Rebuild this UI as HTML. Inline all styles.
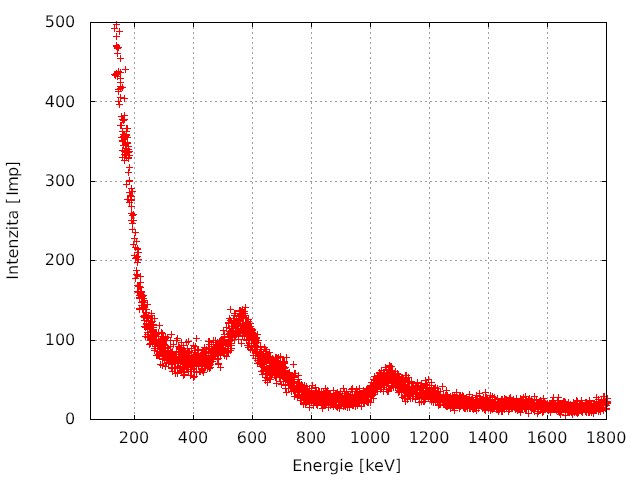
<!DOCTYPE html>
<html><head><meta charset="utf-8"><title>Energie</title>
<style>html,body{margin:0;padding:0;background:#fff;overflow:hidden}svg{display:block}</style>
</head><body>
<svg width="640" height="480" viewBox="0 0 640 480" shape-rendering="crispEdges">
<rect width="640" height="480" fill="#fff"/>
<path d="M134.5 27V415M193.5 27V415M252.5 27V415M311.5 27V415M370.5 27V415M429.5 27V415M488.5 27V415M547.5 27V415" stroke="#a0a0a0" stroke-width="1" stroke-dasharray="2 3" fill="none"/>
<path d="M95 340.5H602M95 260.5H602M95 181.5H602M95 101.5H602" stroke="#a0a0a0" stroke-width="1" stroke-dasharray="2 3" fill="none"/>
<path d="M113 24.5h7M116.5 21v7M111 28.5h7M114.5 25v7M116 31.5h7M119.5 28v7M113 36.5h7M116.5 33v7M113 45.5h7M116.5 42v7M113 46.5h7M116.5 43v7M114 47.5h7M117.5 44v7M115 47.5h7M118.5 44v7M114 48.5h7M117.5 45v7M114 53.5h7M117.5 50v7M117 58.5h7M120.5 55v7M122 69.5h7M125.5 66v7M115 71.5h7M118.5 68v7M117 72.5h7M120.5 69v7M113 73.5h7M116.5 70v7M111 74.5h7M114.5 71v7M114 74.5h7M117.5 71v7M112 75.5h7M115.5 72v7M114 76.5h7M117.5 73v7M117 78.5h7M120.5 75v7M117 82.5h7M120.5 79v7M119 87.5h7M122.5 84v7M117 86.5h7M120.5 83v7M117 88.5h7M120.5 85v7M115 89.5h7M118.5 86v7M115 91.5h7M118.5 88v7M121 98.5h7M124.5 95v7M117 97.5h7M120.5 94v7M115 101.5h7M118.5 98v7M116 104.5h7M119.5 101v7M121 115.5h7M124.5 112v7M118 116.5h7M121.5 113v7M119 119.5h7M122.5 116v7M121 119.5h7M124.5 116v7M120 120.5h7M123.5 117v7M118 125.5h7M121.5 122v7M117 125.5h7M120.5 122v7M123 128.5h7M126.5 125v7M124 128.5h7M127.5 125v7M119 131.5h7M122.5 128v7M123 131.5h7M126.5 128v7M126 167.5h7M129.5 164v7M125 172.5h7M128.5 169v7M126 180.5h7M129.5 177v7M126 181.5h7M129.5 178v7M123 184.5h7M126.5 181v7M128 188.5h7M131.5 185v7M126 192.5h7M129.5 189v7M129 191.5h7M132.5 188v7M127 195.5h7M130.5 192v7M128 196.5h7M131.5 193v7M124 199.5h7M127.5 196v7M125 199.5h7M128.5 196v7M128 199.5h7M131.5 196v7M128 200.5h7M131.5 197v7M126 202.5h7M129.5 199v7M128 206.5h7M131.5 203v7M128 213.5h7M131.5 210v7M130 214.5h7M133.5 211v7M129 215.5h7M132.5 212v7M128 220.5h7M131.5 217v7M130 220.5h7M133.5 217v7M129 223.5h7M132.5 220v7M129 229.5h7M132.5 226v7M132 232.5h7M135.5 229v7M131 238.5h7M134.5 235v7M133 241.5h7M136.5 238v7M130 244.5h7M133.5 241v7M120 134.5h7M123.5 131v7M123 135.5h7M126.5 132v7M118 137.5h7M121.5 134v7M124 137.5h7M127.5 134v7M121 139.5h7M124.5 136v7M119 141.5h7M122.5 138v7M124 142.5h7M127.5 139v7M122 144.5h7M125.5 141v7M120 145.5h7M123.5 142v7M125 146.5h7M128.5 143v7M123 148.5h7M126.5 145v7M119 150.5h7M122.5 147v7M126 151.5h7M129.5 148v7M124 152.5h7M127.5 149v7M125 152.5h7M128.5 149v7M122 154.5h7M125.5 151v7M126 155.5h7M129.5 152v7M119 157.5h7M122.5 154v7M123 157.5h7M126.5 154v7M121 160.5h7M124.5 157v7M125 158.5h7M128.5 155v7M119 140.5h7M122.5 137v7M121 134.5h7M124.5 131v7M120 137.5h7M123.5 134v7M120 136.5h7M123.5 133v7M122 152.5h7M125.5 149v7M121 154.5h7M124.5 151v7M122 136.5h7M125.5 133v7M121 135.5h7M124.5 132v7M123 134.5h7M126.5 131v7M121 151.5h7M124.5 148v7M124 142.5h7M127.5 139v7M122 148.5h7M125.5 145v7M125 157.5h7M128.5 154v7M123 155.5h7M126.5 152v7M124 143.5h7M127.5 140v7M125 149.5h7M128.5 146v7M132 258.5h7M135.5 255v7M131 255.5h7M134.5 252v7M132 247.5h7M135.5 244v7M132 278.5h7M135.5 275v7M134 248.5h7M137.5 245v7M134 262.5h7M137.5 259v7M135 252.5h7M138.5 249v7M134 256.5h7M137.5 253v7M133 270.5h7M136.5 267v7M133 257.5h7M136.5 254v7M134 249.5h7M137.5 246v7M134 275.5h7M137.5 272v7M134 285.5h7M137.5 282v7M134 291.5h7M137.5 288v7M133 274.5h7M136.5 271v7M136 286.5h7M139.5 283v7M134 274.5h7M137.5 271v7M135 259.5h7M138.5 256v7M136 286.5h7M139.5 283v7M134 275.5h7M137.5 272v7M137 282.5h7M140.5 279v7M137 287.5h7M140.5 284v7M136 309.5h7M139.5 306v7M135 292.5h7M138.5 289v7M136 286.5h7M139.5 283v7M135 286.5h7M138.5 283v7M138 292.5h7M141.5 289v7M137 276.5h7M140.5 273v7M136 297.5h7M139.5 294v7M136 295.5h7M139.5 292v7M138 294.5h7M141.5 291v7M139 308.5h7M142.5 305v7M136 308.5h7M139.5 305v7M137 292.5h7M140.5 289v7M136 298.5h7M139.5 295v7M139 301.5h7M142.5 298v7M138 291.5h7M141.5 288v7M140 298.5h7M143.5 295v7M138 302.5h7M141.5 299v7M138 296.5h7M141.5 293v7M138 305.5h7M141.5 302v7M140 305.5h7M143.5 302v7M138 295.5h7M141.5 292v7M140 295.5h7M143.5 292v7M140 309.5h7M143.5 306v7M139 296.5h7M142.5 293v7M139 307.5h7M142.5 304v7M141 304.5h7M144.5 301v7M142 312.5h7M145.5 309v7M140 316.5h7M143.5 313v7M141 315.5h7M144.5 312v7M142 315.5h7M145.5 312v7M140 316.5h7M143.5 313v7M141 300.5h7M144.5 297v7M140 309.5h7M143.5 306v7M141 302.5h7M144.5 299v7M141 315.5h7M144.5 312v7M141 317.5h7M144.5 314v7M141 306.5h7M144.5 303v7M140 309.5h7M143.5 306v7M141 320.5h7M144.5 317v7M141 326.5h7M144.5 323v7M143 312.5h7M146.5 309v7M142 309.5h7M145.5 306v7M142 336.5h7M145.5 333v7M143 326.5h7M146.5 323v7M143 323.5h7M146.5 320v7M142 327.5h7M145.5 324v7M143 320.5h7M146.5 317v7M144 327.5h7M147.5 324v7M144 328.5h7M147.5 325v7M143 324.5h7M146.5 321v7M144 317.5h7M147.5 314v7M144 334.5h7M147.5 331v7M145 316.5h7M148.5 313v7M143 309.5h7M146.5 306v7M145 321.5h7M148.5 318v7M145 318.5h7M148.5 315v7M144 332.5h7M147.5 329v7M146 325.5h7M149.5 322v7M146 327.5h7M149.5 324v7M144 337.5h7M147.5 334v7M147 336.5h7M150.5 333v7M144 304.5h7M147.5 301v7M145 336.5h7M148.5 333v7M146 328.5h7M149.5 325v7M147 329.5h7M150.5 326v7M147 334.5h7M150.5 331v7M146 337.5h7M149.5 334v7M148 331.5h7M151.5 328v7M147 321.5h7M150.5 318v7M148 315.5h7M151.5 312v7M150 325.5h7M153.5 322v7M147 326.5h7M150.5 323v7M145 324.5h7M148.5 321v7M147 343.5h7M150.5 340v7M147 328.5h7M150.5 325v7M148 327.5h7M151.5 324v7M148 313.5h7M151.5 310v7M147 336.5h7M150.5 333v7M147 328.5h7M150.5 325v7M148 322.5h7M151.5 319v7M148 336.5h7M151.5 333v7M146 344.5h7M149.5 341v7M150 338.5h7M153.5 335v7M149 318.5h7M152.5 315v7M149 321.5h7M152.5 318v7M150 324.5h7M153.5 321v7M148 340.5h7M151.5 337v7M150 327.5h7M153.5 324v7M151 342.5h7M154.5 339v7M151 318.5h7M154.5 315v7M150 330.5h7M153.5 327v7M150 327.5h7M153.5 324v7M150 336.5h7M153.5 333v7M152 335.5h7M155.5 332v7M151 350.5h7M154.5 347v7M150 329.5h7M153.5 326v7M149 341.5h7M152.5 338v7M150 338.5h7M153.5 335v7M149 342.5h7M152.5 339v7M153 334.5h7M156.5 331v7M152 340.5h7M155.5 337v7M151 333.5h7M154.5 330v7M152 332.5h7M155.5 329v7M155 332.5h7M158.5 329v7M153 339.5h7M156.5 336v7M151 340.5h7M154.5 337v7M152 344.5h7M155.5 341v7M152 346.5h7M155.5 343v7M151 348.5h7M154.5 345v7M153 340.5h7M156.5 337v7M156 345.5h7M159.5 342v7M155 340.5h7M158.5 337v7M154 351.5h7M157.5 348v7M153 341.5h7M156.5 338v7M154 355.5h7M157.5 352v7M155 344.5h7M158.5 341v7M153 355.5h7M156.5 352v7M152 333.5h7M155.5 330v7M156 343.5h7M159.5 340v7M155 346.5h7M158.5 343v7M156 344.5h7M159.5 341v7M155 355.5h7M158.5 352v7M156 325.5h7M159.5 322v7M155 340.5h7M158.5 337v7M156 341.5h7M159.5 338v7M157 341.5h7M160.5 338v7M157 343.5h7M160.5 340v7M155 342.5h7M158.5 339v7M157 352.5h7M160.5 349v7M155 336.5h7M158.5 333v7M155 344.5h7M158.5 341v7M157 347.5h7M160.5 344v7M158 348.5h7M161.5 345v7M158 341.5h7M161.5 338v7M156 356.5h7M159.5 353v7M158 332.5h7M161.5 329v7M158 352.5h7M161.5 349v7M157 364.5h7M160.5 361v7M155 354.5h7M158.5 351v7M159 333.5h7M162.5 330v7M159 355.5h7M162.5 352v7M159 346.5h7M162.5 343v7M156 348.5h7M159.5 345v7M157 341.5h7M160.5 338v7M159 340.5h7M162.5 337v7M159 341.5h7M162.5 338v7M159 338.5h7M162.5 335v7M159 349.5h7M162.5 346v7M160 348.5h7M163.5 345v7M159 358.5h7M162.5 355v7M159 365.5h7M162.5 362v7M159 359.5h7M162.5 356v7M160 352.5h7M163.5 349v7M159 354.5h7M162.5 351v7M161 353.5h7M164.5 350v7M161 355.5h7M164.5 352v7M160 344.5h7M163.5 341v7M162 340.5h7M165.5 337v7M160 355.5h7M163.5 352v7M161 356.5h7M164.5 353v7M162 352.5h7M165.5 349v7M162 336.5h7M165.5 333v7M159 346.5h7M162.5 343v7M162 347.5h7M165.5 344v7M163 340.5h7M166.5 337v7M163 363.5h7M166.5 360v7M160 337.5h7M163.5 334v7M161 340.5h7M164.5 337v7M162 366.5h7M165.5 363v7M162 353.5h7M165.5 350v7M164 347.5h7M167.5 344v7M162 345.5h7M165.5 342v7M164 354.5h7M167.5 351v7M164 337.5h7M167.5 334v7M162 338.5h7M165.5 335v7M162 355.5h7M165.5 352v7M163 354.5h7M166.5 351v7M164 356.5h7M167.5 353v7M165 363.5h7M168.5 360v7M164 348.5h7M167.5 345v7M165 350.5h7M168.5 347v7M163 360.5h7M166.5 357v7M161 359.5h7M164.5 356v7M164 348.5h7M167.5 345v7M165 359.5h7M168.5 356v7M165 362.5h7M168.5 359v7M164 351.5h7M167.5 348v7M166 359.5h7M169.5 356v7M167 353.5h7M170.5 350v7M165 359.5h7M168.5 356v7M165 353.5h7M168.5 350v7M165 351.5h7M168.5 348v7M168 334.5h7M171.5 331v7M166 361.5h7M169.5 358v7M167 340.5h7M170.5 337v7M168 355.5h7M171.5 352v7M168 352.5h7M171.5 349v7M166 359.5h7M169.5 356v7M168 368.5h7M171.5 365v7M168 359.5h7M171.5 356v7M168 358.5h7M171.5 355v7M168 352.5h7M171.5 349v7M167 346.5h7M170.5 343v7M168 367.5h7M171.5 364v7M167 354.5h7M170.5 351v7M169 360.5h7M172.5 357v7M168 368.5h7M171.5 365v7M169 353.5h7M172.5 350v7M167 354.5h7M170.5 351v7M169 362.5h7M172.5 359v7M168 354.5h7M171.5 351v7M169 371.5h7M172.5 368v7M169 353.5h7M172.5 350v7M169 351.5h7M172.5 348v7M169 364.5h7M172.5 361v7M168 363.5h7M171.5 360v7M171 359.5h7M174.5 356v7M169 357.5h7M172.5 354v7M170 359.5h7M173.5 356v7M169 353.5h7M172.5 350v7M171 361.5h7M174.5 358v7M170 344.5h7M173.5 341v7M171 368.5h7M174.5 365v7M172 373.5h7M175.5 370v7M173 358.5h7M176.5 355v7M172 367.5h7M175.5 364v7M172 359.5h7M175.5 356v7M170 355.5h7M173.5 352v7M173 356.5h7M176.5 353v7M173 351.5h7M176.5 348v7M173 354.5h7M176.5 351v7M173 359.5h7M176.5 356v7M172 357.5h7M175.5 354v7M172 359.5h7M175.5 356v7M174 373.5h7M177.5 370v7M174 361.5h7M177.5 358v7M172 363.5h7M175.5 360v7M174 366.5h7M177.5 363v7M173 340.5h7M176.5 337v7M174 359.5h7M177.5 356v7M174 363.5h7M177.5 360v7M175 363.5h7M178.5 360v7M175 362.5h7M178.5 359v7M175 346.5h7M178.5 343v7M173 352.5h7M176.5 349v7M175 361.5h7M178.5 358v7M174 372.5h7M177.5 369v7M173 356.5h7M176.5 353v7M175 352.5h7M178.5 349v7M174 338.5h7M177.5 335v7M176 356.5h7M179.5 353v7M177 366.5h7M180.5 363v7M175 363.5h7M178.5 360v7M176 368.5h7M179.5 365v7M176 347.5h7M179.5 344v7M177 368.5h7M180.5 365v7M175 358.5h7M178.5 355v7M177 361.5h7M180.5 358v7M176 356.5h7M179.5 353v7M177 362.5h7M180.5 359v7M177 348.5h7M180.5 345v7M178 355.5h7M181.5 352v7M177 349.5h7M180.5 346v7M178 359.5h7M181.5 356v7M179 356.5h7M182.5 353v7M178 342.5h7M181.5 339v7M179 367.5h7M182.5 364v7M178 371.5h7M181.5 368v7M178 358.5h7M181.5 355v7M178 370.5h7M181.5 367v7M179 353.5h7M182.5 350v7M180 368.5h7M183.5 365v7M178 357.5h7M181.5 354v7M179 351.5h7M182.5 348v7M179 359.5h7M182.5 356v7M178 359.5h7M181.5 356v7M180 355.5h7M183.5 352v7M181 361.5h7M184.5 358v7M179 354.5h7M182.5 351v7M178 357.5h7M181.5 354v7M180 359.5h7M183.5 356v7M179 360.5h7M182.5 357v7M182 364.5h7M185.5 361v7M180 363.5h7M183.5 360v7M180 362.5h7M183.5 359v7M180 345.5h7M183.5 342v7M181 372.5h7M184.5 369v7M180 375.5h7M183.5 372v7M180 367.5h7M183.5 364v7M181 364.5h7M184.5 361v7M181 363.5h7M184.5 360v7M183 342.5h7M186.5 339v7M181 351.5h7M184.5 348v7M182 364.5h7M185.5 361v7M181 364.5h7M184.5 361v7M181 371.5h7M184.5 368v7M184 355.5h7M187.5 352v7M180 368.5h7M183.5 365v7M184 364.5h7M187.5 361v7M181 374.5h7M184.5 371v7M183 354.5h7M186.5 351v7M185 351.5h7M188.5 348v7M181 350.5h7M184.5 347v7M182 352.5h7M185.5 349v7M185 355.5h7M188.5 352v7M184 365.5h7M187.5 362v7M183 358.5h7M186.5 355v7M184 348.5h7M187.5 345v7M183 367.5h7M186.5 364v7M184 353.5h7M187.5 350v7M186 359.5h7M189.5 356v7M184 357.5h7M187.5 354v7M185 371.5h7M188.5 368v7M186 351.5h7M189.5 348v7M187 375.5h7M190.5 372v7M185 363.5h7M188.5 360v7M186 359.5h7M189.5 356v7M185 363.5h7M188.5 360v7M185 358.5h7M188.5 355v7M185 355.5h7M188.5 352v7M185 353.5h7M188.5 350v7M185 341.5h7M188.5 338v7M184 369.5h7M187.5 366v7M186 364.5h7M189.5 361v7M187 358.5h7M190.5 355v7M188 371.5h7M191.5 368v7M186 351.5h7M189.5 348v7M187 369.5h7M190.5 366v7M188 360.5h7M191.5 357v7M188 360.5h7M191.5 357v7M187 362.5h7M190.5 359v7M188 348.5h7M191.5 345v7M190 368.5h7M193.5 365v7M188 371.5h7M191.5 368v7M188 348.5h7M191.5 345v7M187 365.5h7M190.5 362v7M189 363.5h7M192.5 360v7M188 371.5h7M191.5 368v7M191 371.5h7M194.5 368v7M189 364.5h7M192.5 361v7M190 365.5h7M193.5 362v7M190 363.5h7M193.5 360v7M191 355.5h7M194.5 352v7M188 352.5h7M191.5 349v7M191 363.5h7M194.5 360v7M190 355.5h7M193.5 352v7M190 359.5h7M193.5 356v7M190 345.5h7M193.5 342v7M190 363.5h7M193.5 360v7M190 369.5h7M193.5 366v7M188 367.5h7M191.5 364v7M191 350.5h7M194.5 347v7M191 356.5h7M194.5 353v7M190 377.5h7M193.5 374v7M191 360.5h7M194.5 357v7M194 360.5h7M197.5 357v7M192 357.5h7M195.5 354v7M191 376.5h7M194.5 373v7M194 350.5h7M197.5 347v7M191 359.5h7M194.5 356v7M192 346.5h7M195.5 343v7M192 362.5h7M195.5 359v7M192 355.5h7M195.5 352v7M193 372.5h7M196.5 369v7M193 338.5h7M196.5 335v7M192 354.5h7M195.5 351v7M193 361.5h7M196.5 358v7M193 356.5h7M196.5 353v7M193 355.5h7M196.5 352v7M194 362.5h7M197.5 359v7M193 360.5h7M196.5 357v7M193 366.5h7M196.5 363v7M194 361.5h7M197.5 358v7M193 363.5h7M196.5 360v7M195 349.5h7M198.5 346v7M194 359.5h7M197.5 356v7M194 356.5h7M197.5 353v7M194 357.5h7M197.5 354v7M195 363.5h7M198.5 360v7M195 365.5h7M198.5 362v7M196 356.5h7M199.5 353v7M195 353.5h7M198.5 350v7M195 363.5h7M198.5 360v7M197 371.5h7M200.5 368v7M197 359.5h7M200.5 356v7M196 361.5h7M199.5 358v7M197 355.5h7M200.5 352v7M197 355.5h7M200.5 352v7M196 371.5h7M199.5 368v7M197 358.5h7M200.5 355v7M200 350.5h7M203.5 347v7M198 354.5h7M201.5 351v7M198 356.5h7M201.5 353v7M197 363.5h7M200.5 360v7M198 359.5h7M201.5 356v7M200 357.5h7M203.5 354v7M198 363.5h7M201.5 360v7M199 363.5h7M202.5 360v7M199 361.5h7M202.5 358v7M199 366.5h7M202.5 363v7M200 372.5h7M203.5 369v7M199 350.5h7M202.5 347v7M199 370.5h7M202.5 367v7M198 369.5h7M201.5 366v7M202 360.5h7M205.5 357v7M200 363.5h7M203.5 360v7M200 363.5h7M203.5 360v7M201 368.5h7M204.5 365v7M199 361.5h7M202.5 358v7M200 352.5h7M203.5 349v7M199 368.5h7M202.5 365v7M200 357.5h7M203.5 354v7M200 356.5h7M203.5 353v7M201 362.5h7M204.5 359v7M201 347.5h7M204.5 344v7M200 361.5h7M203.5 358v7M201 355.5h7M204.5 352v7M201 352.5h7M204.5 349v7M201 355.5h7M204.5 352v7M202 359.5h7M205.5 356v7M202 361.5h7M205.5 358v7M202 366.5h7M205.5 363v7M201 359.5h7M204.5 356v7M203 352.5h7M206.5 349v7M201 355.5h7M204.5 352v7M203 351.5h7M206.5 348v7M203 353.5h7M206.5 350v7M202 351.5h7M205.5 348v7M202 355.5h7M205.5 352v7M202 361.5h7M205.5 358v7M205 366.5h7M208.5 363v7M203 360.5h7M206.5 357v7M203 349.5h7M206.5 346v7M205 363.5h7M208.5 360v7M204 368.5h7M207.5 365v7M205 341.5h7M208.5 338v7M203 357.5h7M206.5 354v7M203 358.5h7M206.5 355v7M208 357.5h7M211.5 354v7M205 361.5h7M208.5 358v7M205 348.5h7M208.5 345v7M205 358.5h7M208.5 355v7M206 367.5h7M209.5 364v7M204 359.5h7M207.5 356v7M206 344.5h7M209.5 341v7M206 365.5h7M209.5 362v7M206 364.5h7M209.5 361v7M206 341.5h7M209.5 338v7M206 363.5h7M209.5 360v7M205 352.5h7M208.5 349v7M204 361.5h7M207.5 358v7M207 355.5h7M210.5 352v7M205 356.5h7M208.5 353v7M206 368.5h7M209.5 365v7M209 361.5h7M212.5 358v7M207 362.5h7M210.5 359v7M208 346.5h7M211.5 343v7M207 359.5h7M210.5 356v7M208 355.5h7M211.5 352v7M208 356.5h7M211.5 353v7M207 367.5h7M210.5 364v7M209 355.5h7M212.5 352v7M208 351.5h7M211.5 348v7M207 364.5h7M210.5 361v7M208 358.5h7M211.5 355v7M209 350.5h7M212.5 347v7M208 358.5h7M211.5 355v7M210 340.5h7M213.5 337v7M210 356.5h7M213.5 353v7M211 350.5h7M214.5 347v7M209 356.5h7M212.5 353v7M210 344.5h7M213.5 341v7M208 355.5h7M211.5 352v7M210 349.5h7M213.5 346v7M210 355.5h7M213.5 352v7M211 348.5h7M214.5 345v7M210 353.5h7M213.5 350v7M210 352.5h7M213.5 349v7M210 358.5h7M213.5 355v7M210 359.5h7M213.5 356v7M211 354.5h7M214.5 351v7M212 355.5h7M215.5 352v7M212 344.5h7M215.5 341v7M212 353.5h7M215.5 350v7M213 351.5h7M216.5 348v7M210 342.5h7M213.5 339v7M211 355.5h7M214.5 352v7M212 340.5h7M215.5 337v7M212 348.5h7M215.5 345v7M213 351.5h7M216.5 348v7M213 352.5h7M216.5 349v7M213 351.5h7M216.5 348v7M213 344.5h7M216.5 341v7M214 359.5h7M217.5 356v7M213 353.5h7M216.5 350v7M213 346.5h7M216.5 343v7M214 353.5h7M217.5 350v7M214 342.5h7M217.5 339v7M215 363.5h7M218.5 360v7M214 354.5h7M217.5 351v7M215 347.5h7M218.5 344v7M214 355.5h7M217.5 352v7M214 344.5h7M217.5 341v7M215 358.5h7M218.5 355v7M212 352.5h7M215.5 349v7M215 364.5h7M218.5 361v7M216 350.5h7M219.5 347v7M215 352.5h7M218.5 349v7M215 352.5h7M218.5 349v7M217 348.5h7M220.5 345v7M216 341.5h7M219.5 338v7M217 349.5h7M220.5 346v7M218 342.5h7M221.5 339v7M217 340.5h7M220.5 337v7M217 343.5h7M220.5 340v7M217 343.5h7M220.5 340v7M217 353.5h7M220.5 350v7M217 350.5h7M220.5 347v7M217 344.5h7M220.5 341v7M218 340.5h7M221.5 337v7M216 344.5h7M219.5 341v7M217 367.5h7M220.5 364v7M218 352.5h7M221.5 349v7M217 355.5h7M220.5 352v7M218 350.5h7M221.5 347v7M217 346.5h7M220.5 343v7M219 352.5h7M222.5 349v7M219 340.5h7M222.5 337v7M220 344.5h7M223.5 341v7M219 348.5h7M222.5 345v7M218 345.5h7M221.5 342v7M219 351.5h7M222.5 348v7M220 339.5h7M223.5 336v7M221 352.5h7M224.5 349v7M217 344.5h7M220.5 341v7M220 330.5h7M223.5 327v7M218 347.5h7M221.5 344v7M221 353.5h7M224.5 350v7M221 337.5h7M224.5 334v7M221 340.5h7M224.5 337v7M221 351.5h7M224.5 348v7M221 340.5h7M224.5 337v7M220 345.5h7M223.5 342v7M221 350.5h7M224.5 347v7M222 345.5h7M225.5 342v7M221 352.5h7M224.5 349v7M221 351.5h7M224.5 348v7M220 352.5h7M223.5 349v7M223 351.5h7M226.5 348v7M221 334.5h7M224.5 331v7M221 355.5h7M224.5 352v7M222 343.5h7M225.5 340v7M221 336.5h7M224.5 333v7M222 342.5h7M225.5 339v7M224 343.5h7M227.5 340v7M224 351.5h7M227.5 348v7M224 348.5h7M227.5 345v7M225 334.5h7M228.5 331v7M222 348.5h7M225.5 345v7M224 345.5h7M227.5 342v7M225 344.5h7M228.5 341v7M226 331.5h7M229.5 328v7M223 342.5h7M226.5 339v7M223 356.5h7M226.5 353v7M225 336.5h7M228.5 333v7M224 345.5h7M227.5 342v7M224 342.5h7M227.5 339v7M225 352.5h7M228.5 349v7M224 352.5h7M227.5 349v7M223 327.5h7M226.5 324v7M225 346.5h7M228.5 343v7M225 340.5h7M228.5 337v7M226 318.5h7M229.5 315v7M226 343.5h7M229.5 340v7M226 333.5h7M229.5 330v7M226 328.5h7M229.5 325v7M225 342.5h7M228.5 339v7M225 323.5h7M228.5 320v7M226 341.5h7M229.5 338v7M227 320.5h7M230.5 317v7M227 350.5h7M230.5 347v7M229 332.5h7M232.5 329v7M227 335.5h7M230.5 332v7M225 322.5h7M228.5 319v7M228 345.5h7M231.5 342v7M228 343.5h7M231.5 340v7M227 309.5h7M230.5 306v7M226 340.5h7M229.5 337v7M228 348.5h7M231.5 345v7M229 326.5h7M232.5 323v7M227 332.5h7M230.5 329v7M228 330.5h7M231.5 327v7M228 337.5h7M231.5 334v7M228 340.5h7M231.5 337v7M228 321.5h7M231.5 318v7M229 337.5h7M232.5 334v7M229 333.5h7M232.5 330v7M229 337.5h7M232.5 334v7M227 337.5h7M230.5 334v7M231 315.5h7M234.5 312v7M229 323.5h7M232.5 320v7M230 326.5h7M233.5 323v7M229 337.5h7M232.5 334v7M231 339.5h7M234.5 336v7M229 332.5h7M232.5 329v7M231 324.5h7M234.5 321v7M231 313.5h7M234.5 310v7M232 336.5h7M235.5 333v7M230 318.5h7M233.5 315v7M231 334.5h7M234.5 331v7M231 320.5h7M234.5 317v7M234 321.5h7M237.5 318v7M230 330.5h7M233.5 327v7M232 333.5h7M235.5 330v7M231 325.5h7M234.5 322v7M232 328.5h7M235.5 325v7M233 328.5h7M236.5 325v7M233 328.5h7M236.5 325v7M233 319.5h7M236.5 316v7M233 322.5h7M236.5 319v7M232 327.5h7M235.5 324v7M233 318.5h7M236.5 315v7M232 313.5h7M235.5 310v7M233 331.5h7M236.5 328v7M233 331.5h7M236.5 328v7M233 334.5h7M236.5 331v7M235 339.5h7M238.5 336v7M234 328.5h7M237.5 325v7M235 332.5h7M238.5 329v7M235 319.5h7M238.5 316v7M232 324.5h7M235.5 321v7M235 324.5h7M238.5 321v7M235 332.5h7M238.5 329v7M235 320.5h7M238.5 317v7M234 333.5h7M237.5 330v7M236 316.5h7M239.5 313v7M237 310.5h7M240.5 307v7M237 324.5h7M240.5 321v7M236 310.5h7M239.5 307v7M237 323.5h7M240.5 320v7M237 324.5h7M240.5 321v7M238 311.5h7M241.5 308v7M238 343.5h7M241.5 340v7M237 326.5h7M240.5 323v7M237 331.5h7M240.5 328v7M237 315.5h7M240.5 312v7M237 331.5h7M240.5 328v7M237 314.5h7M240.5 311v7M238 315.5h7M241.5 312v7M237 330.5h7M240.5 327v7M237 321.5h7M240.5 318v7M238 313.5h7M241.5 310v7M237 319.5h7M240.5 316v7M238 328.5h7M241.5 325v7M236 311.5h7M239.5 308v7M239 309.5h7M242.5 306v7M239 335.5h7M242.5 332v7M239 330.5h7M242.5 327v7M239 325.5h7M242.5 322v7M239 318.5h7M242.5 315v7M239 336.5h7M242.5 333v7M241 313.5h7M244.5 310v7M239 329.5h7M242.5 326v7M241 335.5h7M244.5 332v7M242 333.5h7M245.5 330v7M239 328.5h7M242.5 325v7M240 326.5h7M243.5 323v7M239 312.5h7M242.5 309v7M241 311.5h7M244.5 308v7M240 316.5h7M243.5 313v7M240 323.5h7M243.5 320v7M242 317.5h7M245.5 314v7M242 315.5h7M245.5 312v7M240 333.5h7M243.5 330v7M242 324.5h7M245.5 321v7M242 318.5h7M245.5 315v7M244 335.5h7M247.5 332v7M243 339.5h7M246.5 336v7M241 335.5h7M244.5 332v7M242 307.5h7M245.5 304v7M241 325.5h7M244.5 322v7M243 322.5h7M246.5 319v7M243 332.5h7M246.5 329v7M243 336.5h7M246.5 333v7M243 324.5h7M246.5 321v7M242 331.5h7M245.5 328v7M242 326.5h7M245.5 323v7M245 319.5h7M248.5 316v7M245 324.5h7M248.5 321v7M244 326.5h7M247.5 323v7M244 345.5h7M247.5 342v7M244 330.5h7M247.5 327v7M244 322.5h7M247.5 319v7M243 335.5h7M246.5 332v7M245 339.5h7M248.5 336v7M244 333.5h7M247.5 330v7M245 334.5h7M248.5 331v7M243 340.5h7M246.5 337v7M245 321.5h7M248.5 318v7M247 323.5h7M250.5 320v7M243 325.5h7M246.5 322v7M247 337.5h7M250.5 334v7M246 340.5h7M249.5 337v7M245 345.5h7M248.5 342v7M245 347.5h7M248.5 344v7M247 326.5h7M250.5 323v7M247 329.5h7M250.5 326v7M247 331.5h7M250.5 328v7M246 328.5h7M249.5 325v7M246 340.5h7M249.5 337v7M248 347.5h7M251.5 344v7M246 331.5h7M249.5 328v7M248 338.5h7M251.5 335v7M246 343.5h7M249.5 340v7M247 333.5h7M250.5 330v7M246 330.5h7M249.5 327v7M249 332.5h7M252.5 329v7M246 333.5h7M249.5 330v7M247 349.5h7M250.5 346v7M249 329.5h7M252.5 326v7M249 330.5h7M252.5 327v7M251 349.5h7M254.5 346v7M251 333.5h7M254.5 330v7M250 335.5h7M253.5 332v7M250 355.5h7M253.5 352v7M248 328.5h7M251.5 325v7M249 329.5h7M252.5 326v7M249 338.5h7M252.5 335v7M250 334.5h7M253.5 331v7M249 340.5h7M252.5 337v7M249 336.5h7M252.5 333v7M249 350.5h7M252.5 347v7M251 335.5h7M254.5 332v7M251 343.5h7M254.5 340v7M250 343.5h7M253.5 340v7M251 342.5h7M254.5 339v7M251 346.5h7M254.5 343v7M251 340.5h7M254.5 337v7M251 347.5h7M254.5 344v7M250 339.5h7M253.5 336v7M252 343.5h7M255.5 340v7M253 338.5h7M256.5 335v7M252 345.5h7M255.5 342v7M253 340.5h7M256.5 337v7M253 349.5h7M256.5 346v7M254 334.5h7M257.5 331v7M253 337.5h7M256.5 334v7M252 341.5h7M255.5 338v7M252 358.5h7M255.5 355v7M254 347.5h7M257.5 344v7M254 342.5h7M257.5 339v7M254 353.5h7M257.5 350v7M254 363.5h7M257.5 360v7M254 353.5h7M257.5 350v7M252 355.5h7M255.5 352v7M253 337.5h7M256.5 334v7M252 341.5h7M255.5 338v7M254 346.5h7M257.5 343v7M253 351.5h7M256.5 348v7M255 356.5h7M258.5 353v7M255 340.5h7M258.5 337v7M253 346.5h7M256.5 343v7M256 362.5h7M259.5 359v7M256 352.5h7M259.5 349v7M254 360.5h7M257.5 357v7M256 358.5h7M259.5 355v7M256 352.5h7M259.5 349v7M256 360.5h7M259.5 357v7M257 364.5h7M260.5 361v7M256 356.5h7M259.5 353v7M257 356.5h7M260.5 353v7M257 346.5h7M260.5 343v7M257 363.5h7M260.5 360v7M257 352.5h7M260.5 349v7M258 361.5h7M261.5 358v7M257 362.5h7M260.5 359v7M257 351.5h7M260.5 348v7M257 356.5h7M260.5 353v7M257 354.5h7M260.5 351v7M257 353.5h7M260.5 350v7M258 357.5h7M261.5 354v7M258 364.5h7M261.5 361v7M258 356.5h7M261.5 353v7M258 371.5h7M261.5 368v7M259 371.5h7M262.5 368v7M260 353.5h7M263.5 350v7M260 363.5h7M263.5 360v7M258 351.5h7M261.5 348v7M260 364.5h7M263.5 361v7M259 356.5h7M262.5 353v7M259 357.5h7M262.5 354v7M259 355.5h7M262.5 352v7M259 374.5h7M262.5 371v7M259 355.5h7M262.5 352v7M258 366.5h7M261.5 363v7M260 361.5h7M263.5 358v7M262 356.5h7M265.5 353v7M260 354.5h7M263.5 351v7M261 362.5h7M264.5 359v7M261 356.5h7M264.5 353v7M261 358.5h7M264.5 355v7M260 353.5h7M263.5 350v7M261 347.5h7M264.5 344v7M261 357.5h7M264.5 354v7M259 364.5h7M262.5 361v7M262 380.5h7M265.5 377v7M262 374.5h7M265.5 371v7M260 370.5h7M263.5 367v7M263 367.5h7M266.5 364v7M262 349.5h7M265.5 346v7M263 360.5h7M266.5 357v7M263 356.5h7M266.5 353v7M263 377.5h7M266.5 374v7M262 371.5h7M265.5 368v7M263 351.5h7M266.5 348v7M263 366.5h7M266.5 363v7M266 358.5h7M269.5 355v7M265 356.5h7M268.5 353v7M263 369.5h7M266.5 366v7M264 373.5h7M267.5 370v7M264 378.5h7M267.5 375v7M265 360.5h7M268.5 357v7M264 360.5h7M267.5 357v7M264 356.5h7M267.5 353v7M267 356.5h7M270.5 353v7M266 352.5h7M269.5 349v7M264 382.5h7M267.5 379v7M264 368.5h7M267.5 365v7M265 359.5h7M268.5 356v7M266 359.5h7M269.5 356v7M266 375.5h7M269.5 372v7M266 379.5h7M269.5 376v7M264 368.5h7M267.5 365v7M266 370.5h7M269.5 367v7M267 357.5h7M270.5 354v7M267 361.5h7M270.5 358v7M266 373.5h7M269.5 370v7M267 368.5h7M270.5 365v7M267 370.5h7M270.5 367v7M266 368.5h7M269.5 365v7M267 367.5h7M270.5 364v7M266 362.5h7M269.5 359v7M269 374.5h7M272.5 371v7M268 365.5h7M271.5 362v7M267 367.5h7M270.5 364v7M268 368.5h7M271.5 365v7M269 358.5h7M272.5 355v7M266 359.5h7M269.5 356v7M268 372.5h7M271.5 369v7M270 370.5h7M273.5 367v7M267 370.5h7M270.5 367v7M269 366.5h7M272.5 363v7M268 373.5h7M271.5 370v7M269 373.5h7M272.5 370v7M267 379.5h7M270.5 376v7M268 375.5h7M271.5 372v7M269 365.5h7M272.5 362v7M270 370.5h7M273.5 367v7M270 367.5h7M273.5 364v7M271 362.5h7M274.5 359v7M272 360.5h7M275.5 357v7M271 365.5h7M274.5 362v7M271 369.5h7M274.5 366v7M270 362.5h7M273.5 359v7M271 375.5h7M274.5 372v7M274 367.5h7M277.5 364v7M274 360.5h7M277.5 357v7M272 357.5h7M275.5 354v7M272 362.5h7M275.5 359v7M273 368.5h7M276.5 365v7M272 377.5h7M275.5 374v7M274 365.5h7M277.5 362v7M272 358.5h7M275.5 355v7M272 374.5h7M275.5 371v7M275 363.5h7M278.5 360v7M271 369.5h7M274.5 366v7M273 367.5h7M276.5 364v7M271 363.5h7M274.5 360v7M273 365.5h7M276.5 362v7M273 383.5h7M276.5 380v7M273 357.5h7M276.5 354v7M274 358.5h7M277.5 355v7M273 368.5h7M276.5 365v7M274 373.5h7M277.5 370v7M273 377.5h7M276.5 374v7M274 371.5h7M277.5 368v7M273 372.5h7M276.5 369v7M275 368.5h7M278.5 365v7M274 368.5h7M277.5 365v7M276 369.5h7M279.5 366v7M275 373.5h7M278.5 370v7M275 357.5h7M278.5 354v7M277 363.5h7M280.5 360v7M276 364.5h7M279.5 361v7M274 361.5h7M277.5 358v7M276 372.5h7M279.5 369v7M273 377.5h7M276.5 374v7M276 377.5h7M279.5 374v7M276 365.5h7M279.5 362v7M275 366.5h7M278.5 363v7M277 381.5h7M280.5 378v7M277 357.5h7M280.5 354v7M279 361.5h7M282.5 358v7M277 363.5h7M280.5 360v7M279 370.5h7M282.5 367v7M279 368.5h7M282.5 365v7M277 369.5h7M280.5 366v7M277 371.5h7M280.5 368v7M279 365.5h7M282.5 362v7M278 384.5h7M281.5 381v7M278 372.5h7M281.5 369v7M278 374.5h7M281.5 371v7M277 356.5h7M280.5 353v7M278 370.5h7M281.5 367v7M278 366.5h7M281.5 363v7M277 375.5h7M280.5 372v7M279 365.5h7M282.5 362v7M281 370.5h7M284.5 367v7M281 368.5h7M284.5 365v7M280 381.5h7M283.5 378v7M280 378.5h7M283.5 375v7M280 375.5h7M283.5 372v7M281 362.5h7M284.5 359v7M281 375.5h7M284.5 372v7M280 366.5h7M283.5 363v7M280 373.5h7M283.5 370v7M282 375.5h7M285.5 372v7M283 379.5h7M286.5 376v7M280 377.5h7M283.5 374v7M279 376.5h7M282.5 373v7M282 385.5h7M285.5 382v7M281 371.5h7M284.5 368v7M282 375.5h7M285.5 372v7M283 373.5h7M286.5 370v7M282 388.5h7M285.5 385v7M281 361.5h7M284.5 358v7M280 361.5h7M283.5 358v7M282 377.5h7M285.5 374v7M281 363.5h7M284.5 360v7M283 357.5h7M286.5 354v7M282 381.5h7M285.5 378v7M283 375.5h7M286.5 372v7M282 367.5h7M285.5 364v7M283 392.5h7M286.5 389v7M283 374.5h7M286.5 371v7M284 377.5h7M287.5 374v7M285 373.5h7M288.5 370v7M284 380.5h7M287.5 377v7M283 377.5h7M286.5 374v7M286 380.5h7M289.5 377v7M285 378.5h7M288.5 375v7M285 378.5h7M288.5 375v7M285 378.5h7M288.5 375v7M286 380.5h7M289.5 377v7M286 378.5h7M289.5 375v7M286 381.5h7M289.5 378v7M286 381.5h7M289.5 378v7M285 376.5h7M288.5 373v7M285 377.5h7M288.5 374v7M286 380.5h7M289.5 377v7M286 379.5h7M289.5 376v7M286 372.5h7M289.5 369v7M287 385.5h7M290.5 382v7M287 378.5h7M290.5 375v7M286 382.5h7M289.5 379v7M285 388.5h7M288.5 385v7M288 391.5h7M291.5 388v7M288 388.5h7M291.5 385v7M286 384.5h7M289.5 381v7M288 391.5h7M291.5 388v7M288 377.5h7M291.5 374v7M288 377.5h7M291.5 374v7M286 377.5h7M289.5 374v7M287 376.5h7M290.5 373v7M288 386.5h7M291.5 383v7M290 387.5h7M293.5 384v7M288 385.5h7M291.5 382v7M288 375.5h7M291.5 372v7M288 383.5h7M291.5 380v7M289 376.5h7M292.5 373v7M290 383.5h7M293.5 380v7M287 379.5h7M290.5 376v7M287 381.5h7M290.5 378v7M290 376.5h7M293.5 373v7M290 382.5h7M293.5 379v7M289 385.5h7M292.5 382v7M291 373.5h7M294.5 370v7M291 376.5h7M294.5 373v7M288 386.5h7M291.5 383v7M290 389.5h7M293.5 386v7M292 390.5h7M295.5 387v7M290 364.5h7M293.5 361v7M291 396.5h7M294.5 393v7M292 373.5h7M295.5 370v7M291 381.5h7M294.5 378v7M290 390.5h7M293.5 387v7M291 381.5h7M294.5 378v7M291 377.5h7M294.5 374v7M293 389.5h7M296.5 386v7M290 382.5h7M293.5 379v7M293 388.5h7M296.5 385v7M291 386.5h7M294.5 383v7M293 385.5h7M296.5 382v7M291 383.5h7M294.5 380v7M293 386.5h7M296.5 383v7M294 386.5h7M297.5 383v7M294 392.5h7M297.5 389v7M295 379.5h7M298.5 376v7M293 385.5h7M296.5 382v7M294 382.5h7M297.5 379v7M294 390.5h7M297.5 387v7M295 386.5h7M298.5 383v7M294 397.5h7M297.5 394v7M295 385.5h7M298.5 382v7M295 395.5h7M298.5 392v7M296 386.5h7M299.5 383v7M295 388.5h7M298.5 385v7M296 383.5h7M299.5 380v7M294 394.5h7M297.5 391v7M295 375.5h7M298.5 372v7M294 387.5h7M297.5 384v7M295 390.5h7M298.5 387v7M296 392.5h7M299.5 389v7M297 397.5h7M300.5 394v7M295 389.5h7M298.5 386v7M299 391.5h7M302.5 388v7M296 391.5h7M299.5 388v7M298 384.5h7M301.5 381v7M298 390.5h7M301.5 387v7M294 397.5h7M297.5 394v7M297 398.5h7M300.5 395v7M299 396.5h7M302.5 393v7M295 391.5h7M298.5 388v7M298 385.5h7M301.5 382v7M297 389.5h7M300.5 386v7M297 389.5h7M300.5 386v7M298 397.5h7M301.5 394v7M296 385.5h7M299.5 382v7M298 389.5h7M301.5 386v7M298 395.5h7M301.5 392v7M298 400.5h7M301.5 397v7M299 395.5h7M302.5 392v7M302 393.5h7M305.5 390v7M299 385.5h7M302.5 382v7M300 403.5h7M303.5 400v7M299 390.5h7M302.5 387v7M299 395.5h7M302.5 392v7M300 391.5h7M303.5 388v7M301 390.5h7M304.5 387v7M300 404.5h7M303.5 401v7M301 395.5h7M304.5 392v7M300 403.5h7M303.5 400v7M303 396.5h7M306.5 393v7M299 387.5h7M302.5 384v7M301 385.5h7M304.5 382v7M301 396.5h7M304.5 393v7M301 395.5h7M304.5 392v7M300 402.5h7M303.5 399v7M300 392.5h7M303.5 389v7M301 387.5h7M304.5 384v7M302 403.5h7M305.5 400v7M301 390.5h7M304.5 387v7M301 395.5h7M304.5 392v7M303 401.5h7M306.5 398v7M303 390.5h7M306.5 387v7M302 390.5h7M305.5 387v7M302 400.5h7M305.5 397v7M302 404.5h7M305.5 401v7M305 394.5h7M308.5 391v7M304 398.5h7M307.5 395v7M303 386.5h7M306.5 383v7M304 393.5h7M307.5 390v7M306 393.5h7M309.5 390v7M305 396.5h7M308.5 393v7M302 403.5h7M305.5 400v7M304 390.5h7M307.5 387v7M304 400.5h7M307.5 397v7M304 392.5h7M307.5 389v7M303 396.5h7M306.5 393v7M304 394.5h7M307.5 391v7M304 396.5h7M307.5 393v7M305 392.5h7M308.5 389v7M305 391.5h7M308.5 388v7M304 393.5h7M307.5 390v7M304 400.5h7M307.5 397v7M305 397.5h7M308.5 394v7M306 395.5h7M309.5 392v7M306 392.5h7M309.5 389v7M306 390.5h7M309.5 387v7M303 402.5h7M306.5 399v7M306 403.5h7M309.5 400v7M306 400.5h7M309.5 397v7M306 393.5h7M309.5 390v7M306 407.5h7M309.5 404v7M307 399.5h7M310.5 396v7M306 398.5h7M309.5 395v7M310 395.5h7M313.5 392v7M308 392.5h7M311.5 389v7M307 399.5h7M310.5 396v7M308 396.5h7M311.5 393v7M308 397.5h7M311.5 394v7M308 400.5h7M311.5 397v7M308 388.5h7M311.5 385v7M308 388.5h7M311.5 385v7M310 395.5h7M313.5 392v7M310 405.5h7M313.5 402v7M309 400.5h7M312.5 397v7M310 398.5h7M313.5 395v7M309 394.5h7M312.5 391v7M308 401.5h7M311.5 398v7M308 390.5h7M311.5 387v7M309 385.5h7M312.5 382v7M310 399.5h7M313.5 396v7M310 398.5h7M313.5 395v7M311 398.5h7M314.5 395v7M310 400.5h7M313.5 397v7M310 398.5h7M313.5 395v7M311 398.5h7M314.5 395v7M312 392.5h7M315.5 389v7M310 399.5h7M313.5 396v7M311 399.5h7M314.5 396v7M313 394.5h7M316.5 391v7M312 398.5h7M315.5 395v7M311 397.5h7M314.5 394v7M310 397.5h7M313.5 394v7M313 398.5h7M316.5 395v7M313 400.5h7M316.5 397v7M312 387.5h7M315.5 384v7M312 398.5h7M315.5 395v7M311 397.5h7M314.5 394v7M313 404.5h7M316.5 401v7M313 403.5h7M316.5 400v7M314 393.5h7M317.5 390v7M312 398.5h7M315.5 395v7M315 400.5h7M318.5 397v7M313 392.5h7M316.5 389v7M315 398.5h7M318.5 395v7M313 391.5h7M316.5 388v7M314 399.5h7M317.5 396v7M315 402.5h7M318.5 399v7M314 398.5h7M317.5 395v7M313 400.5h7M316.5 397v7M314 405.5h7M317.5 402v7M315 399.5h7M318.5 396v7M313 395.5h7M316.5 392v7M314 395.5h7M317.5 392v7M315 398.5h7M318.5 395v7M314 401.5h7M317.5 398v7M316 391.5h7M319.5 388v7M314 405.5h7M317.5 402v7M314 398.5h7M317.5 395v7M315 400.5h7M318.5 397v7M318 394.5h7M321.5 391v7M315 391.5h7M318.5 388v7M316 402.5h7M319.5 399v7M317 398.5h7M320.5 395v7M316 397.5h7M319.5 394v7M318 397.5h7M321.5 394v7M317 397.5h7M320.5 394v7M318 405.5h7M321.5 402v7M316 400.5h7M319.5 397v7M316 397.5h7M319.5 394v7M315 399.5h7M318.5 396v7M318 402.5h7M321.5 399v7M318 392.5h7M321.5 389v7M319 400.5h7M322.5 397v7M320 401.5h7M323.5 398v7M318 391.5h7M321.5 388v7M318 402.5h7M321.5 399v7M319 402.5h7M322.5 399v7M320 392.5h7M323.5 389v7M318 393.5h7M321.5 390v7M320 403.5h7M323.5 400v7M319 394.5h7M322.5 391v7M319 403.5h7M322.5 400v7M320 404.5h7M323.5 401v7M319 399.5h7M322.5 396v7M319 408.5h7M322.5 405v7M321 405.5h7M324.5 402v7M320 401.5h7M323.5 398v7M320 395.5h7M323.5 392v7M320 401.5h7M323.5 398v7M321 402.5h7M324.5 399v7M321 395.5h7M324.5 392v7M322 393.5h7M325.5 390v7M322 397.5h7M325.5 394v7M323 403.5h7M326.5 400v7M323 392.5h7M326.5 389v7M323 395.5h7M326.5 392v7M322 396.5h7M325.5 393v7M322 397.5h7M325.5 394v7M322 404.5h7M325.5 401v7M325 395.5h7M328.5 392v7M322 398.5h7M325.5 395v7M323 397.5h7M326.5 394v7M324 397.5h7M327.5 394v7M322 398.5h7M325.5 395v7M322 401.5h7M325.5 398v7M323 403.5h7M326.5 400v7M322 388.5h7M325.5 385v7M322 397.5h7M325.5 394v7M323 397.5h7M326.5 394v7M325 404.5h7M328.5 401v7M325 399.5h7M328.5 396v7M324 396.5h7M327.5 393v7M324 390.5h7M327.5 387v7M323 394.5h7M326.5 391v7M325 407.5h7M328.5 404v7M325 397.5h7M328.5 394v7M324 400.5h7M327.5 397v7M325 404.5h7M328.5 401v7M325 403.5h7M328.5 400v7M325 394.5h7M328.5 391v7M325 396.5h7M328.5 393v7M325 400.5h7M328.5 397v7M325 395.5h7M328.5 392v7M327 393.5h7M330.5 390v7M327 402.5h7M330.5 399v7M327 400.5h7M330.5 397v7M326 393.5h7M329.5 390v7M326 402.5h7M329.5 399v7M329 397.5h7M332.5 394v7M325 401.5h7M328.5 398v7M328 397.5h7M331.5 394v7M328 403.5h7M331.5 400v7M328 403.5h7M331.5 400v7M327 398.5h7M330.5 395v7M328 396.5h7M331.5 393v7M327 405.5h7M330.5 402v7M327 400.5h7M330.5 397v7M328 402.5h7M331.5 399v7M327 395.5h7M330.5 392v7M329 401.5h7M332.5 398v7M330 394.5h7M333.5 391v7M325 403.5h7M328.5 400v7M327 401.5h7M330.5 398v7M329 400.5h7M332.5 397v7M330 403.5h7M333.5 400v7M330 402.5h7M333.5 399v7M330 395.5h7M333.5 392v7M331 397.5h7M334.5 394v7M331 397.5h7M334.5 394v7M332 405.5h7M335.5 402v7M330 390.5h7M333.5 387v7M331 398.5h7M334.5 395v7M329 404.5h7M332.5 401v7M331 395.5h7M334.5 392v7M330 406.5h7M333.5 403v7M332 398.5h7M335.5 395v7M334 392.5h7M337.5 389v7M332 404.5h7M335.5 401v7M330 403.5h7M333.5 400v7M332 402.5h7M335.5 399v7M332 394.5h7M335.5 391v7M332 397.5h7M335.5 394v7M333 406.5h7M336.5 403v7M333 393.5h7M336.5 390v7M330 400.5h7M333.5 397v7M334 397.5h7M337.5 394v7M332 402.5h7M335.5 399v7M332 402.5h7M335.5 399v7M335 402.5h7M338.5 399v7M333 400.5h7M336.5 397v7M332 394.5h7M335.5 391v7M332 400.5h7M335.5 397v7M334 407.5h7M337.5 404v7M335 400.5h7M338.5 397v7M336 395.5h7M339.5 392v7M334 395.5h7M337.5 392v7M334 399.5h7M337.5 396v7M336 404.5h7M339.5 401v7M334 396.5h7M337.5 393v7M336 408.5h7M339.5 405v7M335 398.5h7M338.5 395v7M335 397.5h7M338.5 394v7M335 401.5h7M338.5 398v7M336 397.5h7M339.5 394v7M335 397.5h7M338.5 394v7M335 400.5h7M338.5 397v7M336 402.5h7M339.5 399v7M335 397.5h7M338.5 394v7M337 391.5h7M340.5 388v7M336 398.5h7M339.5 395v7M336 402.5h7M339.5 399v7M337 402.5h7M340.5 399v7M337 393.5h7M340.5 390v7M339 397.5h7M342.5 394v7M337 404.5h7M340.5 401v7M337 400.5h7M340.5 397v7M337 397.5h7M340.5 394v7M338 399.5h7M341.5 396v7M338 402.5h7M341.5 399v7M338 399.5h7M341.5 396v7M338 403.5h7M341.5 400v7M338 404.5h7M341.5 401v7M339 399.5h7M342.5 396v7M339 403.5h7M342.5 400v7M337 405.5h7M340.5 402v7M338 397.5h7M341.5 394v7M336 400.5h7M339.5 397v7M340 406.5h7M343.5 403v7M340 403.5h7M343.5 400v7M341 402.5h7M344.5 399v7M340 402.5h7M343.5 399v7M341 395.5h7M344.5 392v7M340 401.5h7M343.5 398v7M340 401.5h7M343.5 398v7M339 395.5h7M342.5 392v7M340 388.5h7M343.5 385v7M340 398.5h7M343.5 395v7M342 404.5h7M345.5 401v7M343 391.5h7M346.5 388v7M341 393.5h7M344.5 390v7M342 402.5h7M345.5 399v7M342 395.5h7M345.5 392v7M341 391.5h7M344.5 388v7M340 403.5h7M343.5 400v7M341 405.5h7M344.5 402v7M341 399.5h7M344.5 396v7M342 406.5h7M345.5 403v7M342 402.5h7M345.5 399v7M342 402.5h7M345.5 399v7M342 397.5h7M345.5 394v7M343 402.5h7M346.5 399v7M342 403.5h7M345.5 400v7M344 407.5h7M347.5 404v7M342 401.5h7M345.5 398v7M344 395.5h7M347.5 392v7M344 401.5h7M347.5 398v7M343 396.5h7M346.5 393v7M342 403.5h7M345.5 400v7M345 396.5h7M348.5 393v7M344 403.5h7M347.5 400v7M345 394.5h7M348.5 391v7M345 397.5h7M348.5 394v7M345 397.5h7M348.5 394v7M345 403.5h7M348.5 400v7M346 398.5h7M349.5 395v7M346 406.5h7M349.5 403v7M344 402.5h7M347.5 399v7M346 407.5h7M349.5 404v7M346 396.5h7M349.5 393v7M346 402.5h7M349.5 399v7M346 399.5h7M349.5 396v7M346 401.5h7M349.5 398v7M346 401.5h7M349.5 398v7M345 397.5h7M348.5 394v7M345 394.5h7M348.5 391v7M348 404.5h7M351.5 401v7M346 398.5h7M349.5 395v7M347 399.5h7M350.5 396v7M346 396.5h7M349.5 393v7M348 401.5h7M351.5 398v7M347 403.5h7M350.5 400v7M351 399.5h7M354.5 396v7M347 398.5h7M350.5 395v7M347 394.5h7M350.5 391v7M349 400.5h7M352.5 397v7M349 388.5h7M352.5 385v7M346 406.5h7M349.5 403v7M349 395.5h7M352.5 392v7M350 398.5h7M353.5 395v7M348 402.5h7M351.5 399v7M350 405.5h7M353.5 402v7M349 405.5h7M352.5 402v7M348 398.5h7M351.5 395v7M349 397.5h7M352.5 394v7M349 398.5h7M352.5 395v7M348 389.5h7M351.5 386v7M352 401.5h7M355.5 398v7M350 397.5h7M353.5 394v7M350 400.5h7M353.5 397v7M351 400.5h7M354.5 397v7M351 400.5h7M354.5 397v7M352 402.5h7M355.5 399v7M351 399.5h7M354.5 396v7M351 397.5h7M354.5 394v7M351 397.5h7M354.5 394v7M352 391.5h7M355.5 388v7M351 395.5h7M354.5 392v7M352 400.5h7M355.5 397v7M354 393.5h7M357.5 390v7M351 399.5h7M354.5 396v7M352 406.5h7M355.5 403v7M352 405.5h7M355.5 402v7M353 401.5h7M356.5 398v7M353 399.5h7M356.5 396v7M354 398.5h7M357.5 395v7M352 405.5h7M355.5 402v7M353 389.5h7M356.5 386v7M353 389.5h7M356.5 386v7M353 397.5h7M356.5 394v7M354 405.5h7M357.5 402v7M352 399.5h7M355.5 396v7M354 401.5h7M357.5 398v7M354 401.5h7M357.5 398v7M353 401.5h7M356.5 398v7M354 398.5h7M357.5 395v7M356 399.5h7M359.5 396v7M354 399.5h7M357.5 396v7M355 396.5h7M358.5 393v7M355 400.5h7M358.5 397v7M354 398.5h7M357.5 395v7M354 398.5h7M357.5 395v7M355 395.5h7M358.5 392v7M357 395.5h7M360.5 392v7M357 398.5h7M360.5 395v7M355 402.5h7M358.5 399v7M357 397.5h7M360.5 394v7M356 401.5h7M359.5 398v7M356 398.5h7M359.5 395v7M357 398.5h7M360.5 395v7M356 388.5h7M359.5 385v7M355 401.5h7M358.5 398v7M358 398.5h7M361.5 395v7M355 398.5h7M358.5 395v7M358 393.5h7M361.5 390v7M356 391.5h7M359.5 388v7M358 401.5h7M361.5 398v7M358 406.5h7M361.5 403v7M358 402.5h7M361.5 399v7M356 398.5h7M359.5 395v7M358 401.5h7M361.5 398v7M358 398.5h7M361.5 395v7M358 398.5h7M361.5 395v7M359 393.5h7M362.5 390v7M360 398.5h7M363.5 395v7M358 399.5h7M361.5 396v7M359 398.5h7M362.5 395v7M358 397.5h7M361.5 394v7M360 391.5h7M363.5 388v7M360 403.5h7M363.5 400v7M362 399.5h7M365.5 396v7M361 397.5h7M364.5 394v7M361 402.5h7M364.5 399v7M362 397.5h7M365.5 394v7M360 396.5h7M363.5 393v7M362 398.5h7M365.5 395v7M360 396.5h7M363.5 393v7M360 390.5h7M363.5 387v7M362 399.5h7M365.5 396v7M361 394.5h7M364.5 391v7M363 394.5h7M366.5 391v7M360 399.5h7M363.5 396v7M362 392.5h7M365.5 389v7M361 400.5h7M364.5 397v7M362 399.5h7M365.5 396v7M360 394.5h7M363.5 391v7M363 400.5h7M366.5 397v7M363 401.5h7M366.5 398v7M362 396.5h7M365.5 393v7M362 398.5h7M365.5 395v7M362 399.5h7M365.5 396v7M365 399.5h7M368.5 396v7M363 393.5h7M366.5 390v7M363 389.5h7M366.5 386v7M364 393.5h7M367.5 390v7M364 388.5h7M367.5 385v7M364 402.5h7M367.5 399v7M365 399.5h7M368.5 396v7M365 400.5h7M368.5 397v7M365 389.5h7M368.5 386v7M363 391.5h7M366.5 388v7M365 396.5h7M368.5 393v7M365 401.5h7M368.5 398v7M365 400.5h7M368.5 397v7M365 392.5h7M368.5 389v7M365 391.5h7M368.5 388v7M365 390.5h7M368.5 387v7M367 395.5h7M370.5 392v7M365 392.5h7M368.5 389v7M365 402.5h7M368.5 399v7M367 402.5h7M370.5 399v7M367 397.5h7M370.5 394v7M366 389.5h7M369.5 386v7M367 385.5h7M370.5 382v7M366 390.5h7M369.5 387v7M367 393.5h7M370.5 390v7M368 394.5h7M371.5 391v7M368 396.5h7M371.5 393v7M368 389.5h7M371.5 386v7M367 395.5h7M370.5 392v7M366 388.5h7M369.5 385v7M368 382.5h7M371.5 379v7M368 392.5h7M371.5 389v7M369 395.5h7M372.5 392v7M370 379.5h7M373.5 376v7M369 390.5h7M372.5 387v7M370 398.5h7M373.5 395v7M368 392.5h7M371.5 389v7M370 385.5h7M373.5 382v7M370 394.5h7M373.5 391v7M371 383.5h7M374.5 380v7M370 388.5h7M373.5 385v7M370 384.5h7M373.5 381v7M371 376.5h7M374.5 373v7M369 395.5h7M372.5 392v7M371 386.5h7M374.5 383v7M371 389.5h7M374.5 386v7M370 391.5h7M373.5 388v7M369 393.5h7M372.5 390v7M371 391.5h7M374.5 388v7M371 392.5h7M374.5 389v7M372 383.5h7M375.5 380v7M372 386.5h7M375.5 383v7M371 388.5h7M374.5 385v7M372 380.5h7M375.5 377v7M373 385.5h7M376.5 382v7M371 388.5h7M374.5 385v7M372 388.5h7M375.5 385v7M371 382.5h7M374.5 379v7M373 381.5h7M376.5 378v7M374 391.5h7M377.5 388v7M371 387.5h7M374.5 384v7M373 389.5h7M376.5 386v7M374 377.5h7M377.5 374v7M372 391.5h7M375.5 388v7M373 379.5h7M376.5 376v7M372 382.5h7M375.5 379v7M373 382.5h7M376.5 379v7M374 376.5h7M377.5 373v7M374 388.5h7M377.5 385v7M374 386.5h7M377.5 383v7M375 378.5h7M378.5 375v7M374 381.5h7M377.5 378v7M373 389.5h7M376.5 386v7M376 373.5h7M379.5 370v7M376 382.5h7M379.5 379v7M374 381.5h7M377.5 378v7M377 387.5h7M380.5 384v7M376 380.5h7M379.5 377v7M376 373.5h7M379.5 370v7M377 389.5h7M380.5 386v7M373 381.5h7M376.5 378v7M374 382.5h7M377.5 379v7M377 384.5h7M380.5 381v7M376 372.5h7M379.5 369v7M375 385.5h7M378.5 382v7M378 381.5h7M381.5 378v7M377 374.5h7M380.5 371v7M376 385.5h7M379.5 382v7M376 385.5h7M379.5 382v7M378 387.5h7M381.5 384v7M379 378.5h7M382.5 375v7M375 375.5h7M378.5 372v7M378 381.5h7M381.5 378v7M377 383.5h7M380.5 380v7M376 375.5h7M379.5 372v7M378 379.5h7M381.5 376v7M377 383.5h7M380.5 380v7M378 370.5h7M381.5 367v7M380 387.5h7M383.5 384v7M379 379.5h7M382.5 376v7M380 383.5h7M383.5 380v7M380 373.5h7M383.5 370v7M379 383.5h7M382.5 380v7M380 382.5h7M383.5 379v7M378 385.5h7M381.5 382v7M379 378.5h7M382.5 375v7M381 373.5h7M384.5 370v7M379 378.5h7M382.5 375v7M380 391.5h7M383.5 388v7M381 379.5h7M384.5 376v7M382 377.5h7M385.5 374v7M380 374.5h7M383.5 371v7M380 374.5h7M383.5 371v7M381 385.5h7M384.5 382v7M381 382.5h7M384.5 379v7M381 374.5h7M384.5 371v7M382 375.5h7M385.5 372v7M382 378.5h7M385.5 375v7M382 367.5h7M385.5 364v7M385 380.5h7M388.5 377v7M383 383.5h7M386.5 380v7M383 378.5h7M386.5 375v7M383 389.5h7M386.5 386v7M385 375.5h7M388.5 372v7M384 391.5h7M387.5 388v7M382 381.5h7M385.5 378v7M383 374.5h7M386.5 371v7M383 369.5h7M386.5 366v7M383 380.5h7M386.5 377v7M384 382.5h7M387.5 379v7M384 383.5h7M387.5 380v7M384 382.5h7M387.5 379v7M383 374.5h7M386.5 371v7M385 391.5h7M388.5 388v7M383 383.5h7M386.5 380v7M385 383.5h7M388.5 380v7M384 383.5h7M387.5 380v7M385 370.5h7M388.5 367v7M382 377.5h7M385.5 374v7M387 388.5h7M390.5 385v7M383 370.5h7M386.5 367v7M384 374.5h7M387.5 371v7M386 370.5h7M389.5 367v7M385 378.5h7M388.5 375v7M385 372.5h7M388.5 369v7M384 380.5h7M387.5 377v7M386 376.5h7M389.5 373v7M386 377.5h7M389.5 374v7M387 374.5h7M390.5 371v7M386 379.5h7M389.5 376v7M387 379.5h7M390.5 376v7M387 366.5h7M390.5 363v7M386 365.5h7M389.5 362v7M386 388.5h7M389.5 385v7M389 382.5h7M392.5 379v7M387 380.5h7M390.5 377v7M389 376.5h7M392.5 373v7M388 387.5h7M391.5 384v7M389 379.5h7M392.5 376v7M387 370.5h7M390.5 367v7M389 379.5h7M392.5 376v7M389 379.5h7M392.5 376v7M388 381.5h7M391.5 378v7M389 370.5h7M392.5 367v7M388 366.5h7M391.5 363v7M389 379.5h7M392.5 376v7M389 381.5h7M392.5 378v7M390 387.5h7M393.5 384v7M389 383.5h7M392.5 380v7M388 372.5h7M391.5 369v7M389 377.5h7M392.5 374v7M390 379.5h7M393.5 376v7M389 378.5h7M392.5 375v7M392 383.5h7M395.5 380v7M391 382.5h7M394.5 379v7M391 384.5h7M394.5 381v7M390 387.5h7M393.5 384v7M390 382.5h7M393.5 379v7M392 371.5h7M395.5 368v7M390 374.5h7M393.5 371v7M392 382.5h7M395.5 379v7M392 371.5h7M395.5 368v7M391 377.5h7M394.5 374v7M392 377.5h7M395.5 374v7M391 381.5h7M394.5 378v7M392 387.5h7M395.5 384v7M391 374.5h7M394.5 371v7M391 381.5h7M394.5 378v7M394 387.5h7M397.5 384v7M392 382.5h7M395.5 379v7M391 374.5h7M394.5 371v7M394 384.5h7M397.5 381v7M392 378.5h7M395.5 375v7M390 378.5h7M393.5 375v7M393 385.5h7M396.5 382v7M395 374.5h7M398.5 371v7M394 373.5h7M397.5 370v7M396 391.5h7M399.5 388v7M394 377.5h7M397.5 374v7M395 376.5h7M398.5 373v7M393 377.5h7M396.5 374v7M395 386.5h7M398.5 383v7M396 378.5h7M399.5 375v7M395 380.5h7M398.5 377v7M395 392.5h7M398.5 389v7M393 376.5h7M396.5 373v7M395 376.5h7M398.5 373v7M394 382.5h7M397.5 379v7M397 384.5h7M400.5 381v7M395 387.5h7M398.5 384v7M396 386.5h7M399.5 383v7M395 378.5h7M398.5 375v7M398 391.5h7M401.5 388v7M395 390.5h7M398.5 387v7M397 379.5h7M400.5 376v7M399 378.5h7M402.5 375v7M397 386.5h7M400.5 383v7M396 391.5h7M399.5 388v7M398 378.5h7M401.5 375v7M398 386.5h7M401.5 383v7M398 377.5h7M401.5 374v7M396 382.5h7M399.5 379v7M398 382.5h7M401.5 379v7M396 379.5h7M399.5 376v7M400 388.5h7M403.5 385v7M398 392.5h7M401.5 389v7M398 392.5h7M401.5 389v7M399 397.5h7M402.5 394v7M399 380.5h7M402.5 377v7M398 389.5h7M401.5 386v7M401 384.5h7M404.5 381v7M399 385.5h7M402.5 382v7M398 384.5h7M401.5 381v7M401 396.5h7M404.5 393v7M401 385.5h7M404.5 382v7M401 391.5h7M404.5 388v7M401 387.5h7M404.5 384v7M399 377.5h7M402.5 374v7M401 398.5h7M404.5 395v7M402 390.5h7M405.5 387v7M402 401.5h7M405.5 398v7M402 384.5h7M405.5 381v7M400 379.5h7M403.5 376v7M402 390.5h7M405.5 387v7M402 375.5h7M405.5 372v7M400 386.5h7M403.5 383v7M400 390.5h7M403.5 387v7M401 395.5h7M404.5 392v7M402 392.5h7M405.5 389v7M403 378.5h7M406.5 375v7M402 390.5h7M405.5 387v7M402 386.5h7M405.5 383v7M403 392.5h7M406.5 389v7M403 390.5h7M406.5 387v7M404 389.5h7M407.5 386v7M404 381.5h7M407.5 378v7M403 375.5h7M406.5 372v7M404 391.5h7M407.5 388v7M403 391.5h7M406.5 388v7M405 393.5h7M408.5 390v7M403 391.5h7M406.5 388v7M406 389.5h7M409.5 386v7M404 399.5h7M407.5 396v7M405 377.5h7M408.5 374v7M404 398.5h7M407.5 395v7M404 392.5h7M407.5 389v7M405 387.5h7M408.5 384v7M405 394.5h7M408.5 391v7M405 390.5h7M408.5 387v7M404 398.5h7M407.5 395v7M405 388.5h7M408.5 385v7M406 391.5h7M409.5 388v7M406 394.5h7M409.5 391v7M407 398.5h7M410.5 395v7M406 387.5h7M409.5 384v7M404 387.5h7M407.5 384v7M406 382.5h7M409.5 379v7M405 390.5h7M408.5 387v7M405 395.5h7M408.5 392v7M408 392.5h7M411.5 389v7M408 381.5h7M411.5 378v7M407 389.5h7M410.5 386v7M407 389.5h7M410.5 386v7M407 395.5h7M410.5 392v7M406 386.5h7M409.5 383v7M408 383.5h7M411.5 380v7M408 393.5h7M411.5 390v7M410 394.5h7M413.5 391v7M407 391.5h7M410.5 388v7M409 394.5h7M412.5 391v7M408 387.5h7M411.5 384v7M410 393.5h7M413.5 390v7M408 382.5h7M411.5 379v7M410 392.5h7M413.5 389v7M409 394.5h7M412.5 391v7M409 398.5h7M412.5 395v7M409 393.5h7M412.5 390v7M410 390.5h7M413.5 387v7M410 393.5h7M413.5 390v7M412 388.5h7M415.5 385v7M411 391.5h7M414.5 388v7M408 383.5h7M411.5 380v7M410 392.5h7M413.5 389v7M409 387.5h7M412.5 384v7M410 386.5h7M413.5 383v7M412 390.5h7M415.5 387v7M410 393.5h7M413.5 390v7M410 390.5h7M413.5 387v7M412 388.5h7M415.5 385v7M411 388.5h7M414.5 385v7M413 390.5h7M416.5 387v7M412 390.5h7M415.5 387v7M413 386.5h7M416.5 383v7M414 388.5h7M417.5 385v7M412 390.5h7M415.5 387v7M412 386.5h7M415.5 383v7M412 392.5h7M415.5 389v7M413 394.5h7M416.5 391v7M414 394.5h7M417.5 391v7M414 382.5h7M417.5 379v7M413 387.5h7M416.5 384v7M413 385.5h7M416.5 382v7M413 396.5h7M416.5 393v7M412 399.5h7M415.5 396v7M414 389.5h7M417.5 386v7M415 387.5h7M418.5 384v7M412 398.5h7M415.5 395v7M412 396.5h7M415.5 393v7M416 393.5h7M419.5 390v7M413 390.5h7M416.5 387v7M415 395.5h7M418.5 392v7M414 390.5h7M417.5 387v7M416 395.5h7M419.5 392v7M416 389.5h7M419.5 386v7M416 395.5h7M419.5 392v7M416 395.5h7M419.5 392v7M416 402.5h7M419.5 399v7M416 394.5h7M419.5 391v7M418 397.5h7M421.5 394v7M417 394.5h7M420.5 391v7M416 396.5h7M419.5 393v7M416 394.5h7M419.5 391v7M416 389.5h7M419.5 386v7M417 387.5h7M420.5 384v7M417 395.5h7M420.5 392v7M417 392.5h7M420.5 389v7M418 396.5h7M421.5 393v7M418 393.5h7M421.5 390v7M418 397.5h7M421.5 394v7M418 383.5h7M421.5 380v7M419 390.5h7M422.5 387v7M417 394.5h7M420.5 391v7M420 397.5h7M423.5 394v7M419 394.5h7M422.5 391v7M419 396.5h7M422.5 393v7M419 392.5h7M422.5 389v7M420 394.5h7M423.5 391v7M420 388.5h7M423.5 385v7M419 395.5h7M422.5 392v7M419 386.5h7M422.5 383v7M418 401.5h7M421.5 398v7M420 394.5h7M423.5 391v7M420 397.5h7M423.5 394v7M420 396.5h7M423.5 393v7M423 394.5h7M426.5 391v7M418 393.5h7M421.5 390v7M421 401.5h7M424.5 398v7M422 380.5h7M425.5 377v7M422 395.5h7M425.5 392v7M422 394.5h7M425.5 391v7M420 395.5h7M423.5 392v7M420 401.5h7M423.5 398v7M422 399.5h7M425.5 396v7M421 397.5h7M424.5 394v7M423 388.5h7M426.5 385v7M422 399.5h7M425.5 396v7M422 397.5h7M425.5 394v7M423 384.5h7M426.5 381v7M422 388.5h7M425.5 385v7M423 392.5h7M426.5 389v7M422 395.5h7M425.5 392v7M423 387.5h7M426.5 384v7M422 390.5h7M425.5 387v7M423 396.5h7M426.5 393v7M422 391.5h7M425.5 388v7M422 390.5h7M425.5 387v7M424 395.5h7M427.5 392v7M424 385.5h7M427.5 382v7M423 392.5h7M426.5 389v7M424 388.5h7M427.5 385v7M423 392.5h7M426.5 389v7M426 390.5h7M429.5 387v7M423 390.5h7M426.5 387v7M426 385.5h7M429.5 382v7M424 392.5h7M427.5 389v7M425 397.5h7M428.5 394v7M425 397.5h7M428.5 394v7M425 392.5h7M428.5 389v7M426 391.5h7M429.5 388v7M426 396.5h7M429.5 393v7M426 395.5h7M429.5 392v7M425 379.5h7M428.5 376v7M428 387.5h7M431.5 384v7M428 396.5h7M431.5 393v7M427 396.5h7M430.5 393v7M426 395.5h7M429.5 392v7M427 394.5h7M430.5 391v7M427 393.5h7M430.5 390v7M428 382.5h7M431.5 379v7M426 389.5h7M429.5 386v7M427 393.5h7M430.5 390v7M427 395.5h7M430.5 392v7M429 395.5h7M432.5 392v7M430 401.5h7M433.5 398v7M428 401.5h7M431.5 398v7M429 396.5h7M432.5 393v7M430 402.5h7M433.5 399v7M428 390.5h7M431.5 387v7M428 398.5h7M431.5 395v7M430 397.5h7M433.5 394v7M429 395.5h7M432.5 392v7M429 397.5h7M432.5 394v7M431 393.5h7M434.5 390v7M430 393.5h7M433.5 390v7M428 397.5h7M431.5 394v7M430 392.5h7M433.5 389v7M430 394.5h7M433.5 391v7M432 387.5h7M435.5 384v7M430 388.5h7M433.5 385v7M430 400.5h7M433.5 397v7M431 398.5h7M434.5 395v7M431 396.5h7M434.5 393v7M429 397.5h7M432.5 394v7M431 397.5h7M434.5 394v7M431 399.5h7M434.5 396v7M433 393.5h7M436.5 390v7M434 393.5h7M437.5 390v7M430 397.5h7M433.5 394v7M431 399.5h7M434.5 396v7M431 396.5h7M434.5 393v7M431 393.5h7M434.5 390v7M432 391.5h7M435.5 388v7M432 393.5h7M435.5 390v7M434 394.5h7M437.5 391v7M431 394.5h7M434.5 391v7M431 398.5h7M434.5 395v7M431 388.5h7M434.5 385v7M434 401.5h7M437.5 398v7M435 394.5h7M438.5 391v7M432 401.5h7M435.5 398v7M432 393.5h7M435.5 390v7M434 398.5h7M437.5 395v7M435 391.5h7M438.5 388v7M435 405.5h7M438.5 402v7M434 393.5h7M437.5 390v7M435 396.5h7M438.5 393v7M435 401.5h7M438.5 398v7M434 395.5h7M437.5 392v7M437 400.5h7M440.5 397v7M435 401.5h7M438.5 398v7M434 388.5h7M437.5 385v7M435 398.5h7M438.5 395v7M434 394.5h7M437.5 391v7M436 398.5h7M439.5 395v7M437 391.5h7M440.5 388v7M435 398.5h7M438.5 395v7M437 394.5h7M440.5 391v7M438 398.5h7M441.5 395v7M437 401.5h7M440.5 398v7M435 398.5h7M438.5 395v7M436 404.5h7M439.5 401v7M437 402.5h7M440.5 399v7M436 397.5h7M439.5 394v7M436 395.5h7M439.5 392v7M437 401.5h7M440.5 398v7M437 395.5h7M440.5 392v7M438 398.5h7M441.5 395v7M437 404.5h7M440.5 401v7M440 399.5h7M443.5 396v7M439 386.5h7M442.5 383v7M439 400.5h7M442.5 397v7M438 398.5h7M441.5 395v7M440 398.5h7M443.5 395v7M438 397.5h7M441.5 394v7M441 398.5h7M444.5 395v7M440 398.5h7M443.5 395v7M438 398.5h7M441.5 395v7M439 398.5h7M442.5 395v7M441 404.5h7M444.5 401v7M441 398.5h7M444.5 395v7M440 401.5h7M443.5 398v7M440 398.5h7M443.5 395v7M440 395.5h7M443.5 392v7M440 404.5h7M443.5 401v7M440 399.5h7M443.5 396v7M440 399.5h7M443.5 396v7M440 396.5h7M443.5 393v7M441 401.5h7M444.5 398v7M440 397.5h7M443.5 394v7M442 398.5h7M445.5 395v7M442 395.5h7M445.5 392v7M442 398.5h7M445.5 395v7M443 402.5h7M446.5 399v7M443 403.5h7M446.5 400v7M443 402.5h7M446.5 399v7M443 390.5h7M446.5 387v7M442 401.5h7M445.5 398v7M443 399.5h7M446.5 396v7M442 405.5h7M445.5 402v7M443 399.5h7M446.5 396v7M444 396.5h7M447.5 393v7M443 401.5h7M446.5 398v7M444 395.5h7M447.5 392v7M442 395.5h7M445.5 392v7M445 398.5h7M448.5 395v7M443 400.5h7M446.5 397v7M444 405.5h7M447.5 402v7M444 406.5h7M447.5 403v7M445 403.5h7M448.5 400v7M444 398.5h7M447.5 395v7M444 402.5h7M447.5 399v7M443 394.5h7M446.5 391v7M445 399.5h7M448.5 396v7M444 405.5h7M447.5 402v7M446 397.5h7M449.5 394v7M447 403.5h7M450.5 400v7M443 406.5h7M446.5 403v7M444 402.5h7M447.5 399v7M446 400.5h7M449.5 397v7M447 405.5h7M450.5 402v7M446 402.5h7M449.5 399v7M447 396.5h7M450.5 393v7M447 407.5h7M450.5 404v7M447 404.5h7M450.5 401v7M448 403.5h7M451.5 400v7M448 405.5h7M451.5 402v7M446 405.5h7M449.5 402v7M447 405.5h7M450.5 402v7M448 405.5h7M451.5 402v7M447 402.5h7M450.5 399v7M447 398.5h7M450.5 395v7M447 398.5h7M450.5 395v7M447 398.5h7M450.5 395v7M449 398.5h7M452.5 395v7M448 400.5h7M451.5 397v7M447 408.5h7M450.5 405v7M448 403.5h7M451.5 400v7M449 403.5h7M452.5 400v7M451 410.5h7M454.5 407v7M449 403.5h7M452.5 400v7M451 395.5h7M454.5 392v7M450 397.5h7M453.5 394v7M447 404.5h7M450.5 401v7M450 407.5h7M453.5 404v7M449 395.5h7M452.5 392v7M449 398.5h7M452.5 395v7M449 407.5h7M452.5 404v7M452 405.5h7M455.5 402v7M449 404.5h7M452.5 401v7M450 399.5h7M453.5 396v7M452 398.5h7M455.5 395v7M452 401.5h7M455.5 398v7M449 405.5h7M452.5 402v7M451 404.5h7M454.5 401v7M451 402.5h7M454.5 399v7M451 395.5h7M454.5 392v7M453 405.5h7M456.5 402v7M451 395.5h7M454.5 392v7M452 405.5h7M455.5 402v7M454 398.5h7M457.5 395v7M451 402.5h7M454.5 399v7M452 400.5h7M455.5 397v7M453 398.5h7M456.5 395v7M452 405.5h7M455.5 402v7M452 397.5h7M455.5 394v7M452 401.5h7M455.5 398v7M453 400.5h7M456.5 397v7M453 405.5h7M456.5 402v7M454 402.5h7M457.5 399v7M455 398.5h7M458.5 395v7M454 405.5h7M457.5 402v7M454 403.5h7M457.5 400v7M455 403.5h7M458.5 400v7M454 397.5h7M457.5 394v7M453 392.5h7M456.5 389v7M456 397.5h7M459.5 394v7M455 398.5h7M458.5 395v7M456 407.5h7M459.5 404v7M454 399.5h7M457.5 396v7M456 399.5h7M459.5 396v7M458 397.5h7M461.5 394v7M456 400.5h7M459.5 397v7M454 399.5h7M457.5 396v7M456 400.5h7M459.5 397v7M456 395.5h7M459.5 392v7M457 400.5h7M460.5 397v7M456 398.5h7M459.5 395v7M457 406.5h7M460.5 403v7M456 408.5h7M459.5 405v7M457 399.5h7M460.5 396v7M456 408.5h7M459.5 405v7M457 395.5h7M460.5 392v7M458 405.5h7M461.5 402v7M457 399.5h7M460.5 396v7M458 404.5h7M461.5 401v7M457 402.5h7M460.5 399v7M458 404.5h7M461.5 401v7M458 399.5h7M461.5 396v7M460 400.5h7M463.5 397v7M458 399.5h7M461.5 396v7M460 396.5h7M463.5 393v7M457 403.5h7M460.5 400v7M459 395.5h7M462.5 392v7M460 402.5h7M463.5 399v7M460 400.5h7M463.5 397v7M458 397.5h7M461.5 394v7M458 402.5h7M461.5 399v7M461 402.5h7M464.5 399v7M459 401.5h7M462.5 398v7M461 408.5h7M464.5 405v7M460 407.5h7M463.5 404v7M460 397.5h7M463.5 394v7M463 397.5h7M466.5 394v7M462 399.5h7M465.5 396v7M462 402.5h7M465.5 399v7M460 405.5h7M463.5 402v7M461 402.5h7M464.5 399v7M461 401.5h7M464.5 398v7M461 399.5h7M464.5 396v7M463 401.5h7M466.5 398v7M460 405.5h7M463.5 402v7M462 405.5h7M465.5 402v7M462 408.5h7M465.5 405v7M461 402.5h7M464.5 399v7M464 401.5h7M467.5 398v7M461 401.5h7M464.5 398v7M463 406.5h7M466.5 403v7M463 405.5h7M466.5 402v7M461 398.5h7M464.5 395v7M462 406.5h7M465.5 403v7M462 400.5h7M465.5 397v7M464 402.5h7M467.5 399v7M465 399.5h7M468.5 396v7M464 405.5h7M467.5 402v7M464 406.5h7M467.5 403v7M462 407.5h7M465.5 404v7M464 408.5h7M467.5 405v7M464 402.5h7M467.5 399v7M466 403.5h7M469.5 400v7M466 404.5h7M469.5 401v7M467 406.5h7M470.5 403v7M466 401.5h7M469.5 398v7M466 394.5h7M469.5 391v7M464 407.5h7M467.5 404v7M466 408.5h7M469.5 405v7M464 399.5h7M467.5 396v7M467 402.5h7M470.5 399v7M465 399.5h7M468.5 396v7M466 398.5h7M469.5 395v7M465 405.5h7M468.5 402v7M466 403.5h7M469.5 400v7M467 401.5h7M470.5 398v7M466 402.5h7M469.5 399v7M467 401.5h7M470.5 398v7M466 399.5h7M469.5 396v7M469 405.5h7M472.5 402v7M467 408.5h7M470.5 405v7M469 397.5h7M472.5 394v7M470 406.5h7M473.5 403v7M465 401.5h7M468.5 398v7M467 402.5h7M470.5 399v7M468 404.5h7M471.5 401v7M470 405.5h7M473.5 402v7M468 399.5h7M471.5 396v7M469 401.5h7M472.5 398v7M468 400.5h7M471.5 397v7M470 402.5h7M473.5 399v7M468 401.5h7M471.5 398v7M470 401.5h7M473.5 398v7M466 397.5h7M469.5 394v7M468 404.5h7M471.5 401v7M472 408.5h7M475.5 405v7M470 400.5h7M473.5 397v7M469 408.5h7M472.5 405v7M472 400.5h7M475.5 397v7M471 408.5h7M474.5 405v7M472 404.5h7M475.5 401v7M470 409.5h7M473.5 406v7M471 405.5h7M474.5 402v7M471 406.5h7M474.5 403v7M469 403.5h7M472.5 400v7M472 400.5h7M475.5 397v7M471 402.5h7M474.5 399v7M473 410.5h7M476.5 407v7M473 395.5h7M476.5 392v7M471 402.5h7M474.5 399v7M471 405.5h7M474.5 402v7M472 401.5h7M475.5 398v7M473 405.5h7M476.5 402v7M472 399.5h7M475.5 396v7M473 407.5h7M476.5 404v7M473 406.5h7M476.5 403v7M473 399.5h7M476.5 396v7M474 402.5h7M477.5 399v7M474 405.5h7M477.5 402v7M473 405.5h7M476.5 402v7M472 405.5h7M475.5 402v7M475 405.5h7M478.5 402v7M474 403.5h7M477.5 400v7M474 405.5h7M477.5 402v7M474 402.5h7M477.5 399v7M473 404.5h7M476.5 401v7M474 399.5h7M477.5 396v7M472 405.5h7M475.5 402v7M474 403.5h7M477.5 400v7M474 404.5h7M477.5 401v7M477 398.5h7M480.5 395v7M476 393.5h7M479.5 390v7M475 407.5h7M478.5 404v7M476 405.5h7M479.5 402v7M477 401.5h7M480.5 398v7M475 408.5h7M478.5 405v7M476 402.5h7M479.5 399v7M476 402.5h7M479.5 399v7M479 405.5h7M482.5 402v7M477 402.5h7M480.5 399v7M475 404.5h7M478.5 401v7M478 405.5h7M481.5 402v7M480 404.5h7M483.5 401v7M476 399.5h7M479.5 396v7M481 404.5h7M484.5 401v7M477 402.5h7M480.5 399v7M479 408.5h7M482.5 405v7M477 405.5h7M480.5 402v7M478 402.5h7M481.5 399v7M477 404.5h7M480.5 401v7M477 404.5h7M480.5 401v7M476 396.5h7M479.5 393v7M480 397.5h7M483.5 394v7M478 401.5h7M481.5 398v7M479 404.5h7M482.5 401v7M479 404.5h7M482.5 401v7M479 405.5h7M482.5 402v7M479 408.5h7M482.5 405v7M479 404.5h7M482.5 401v7M479 402.5h7M482.5 399v7M480 401.5h7M483.5 398v7M480 404.5h7M483.5 401v7M479 405.5h7M482.5 402v7M479 400.5h7M482.5 397v7M480 399.5h7M483.5 396v7M481 402.5h7M484.5 399v7M482 403.5h7M485.5 400v7M482 403.5h7M485.5 400v7M481 401.5h7M484.5 398v7M482 399.5h7M485.5 396v7M482 404.5h7M485.5 401v7M483 404.5h7M486.5 401v7M482 403.5h7M485.5 400v7M482 405.5h7M485.5 402v7M482 402.5h7M485.5 399v7M482 410.5h7M485.5 407v7M484 400.5h7M487.5 397v7M481 402.5h7M484.5 399v7M483 402.5h7M486.5 399v7M482 401.5h7M485.5 398v7M484 399.5h7M487.5 396v7M485 403.5h7M488.5 400v7M483 397.5h7M486.5 394v7M481 409.5h7M484.5 406v7M484 402.5h7M487.5 399v7M484 405.5h7M487.5 402v7M482 392.5h7M485.5 389v7M484 403.5h7M487.5 400v7M484 403.5h7M487.5 400v7M482 398.5h7M485.5 395v7M485 402.5h7M488.5 399v7M485 401.5h7M488.5 398v7M485 405.5h7M488.5 402v7M484 405.5h7M487.5 402v7M484 399.5h7M487.5 396v7M485 408.5h7M488.5 405v7M486 407.5h7M489.5 404v7M485 403.5h7M488.5 400v7M487 409.5h7M490.5 406v7M486 399.5h7M489.5 396v7M484 402.5h7M487.5 399v7M488 407.5h7M491.5 404v7M487 406.5h7M490.5 403v7M486 402.5h7M489.5 399v7M487 405.5h7M490.5 402v7M485 404.5h7M488.5 401v7M487 410.5h7M490.5 407v7M485 405.5h7M488.5 402v7M486 404.5h7M489.5 401v7M489 402.5h7M492.5 399v7M489 402.5h7M492.5 399v7M487 403.5h7M490.5 400v7M487 402.5h7M490.5 399v7M489 403.5h7M492.5 400v7M488 402.5h7M491.5 399v7M489 403.5h7M492.5 400v7M489 405.5h7M492.5 402v7M488 408.5h7M491.5 405v7M490 403.5h7M493.5 400v7M487 395.5h7M490.5 392v7M491 406.5h7M494.5 403v7M488 406.5h7M491.5 403v7M489 396.5h7M492.5 393v7M489 402.5h7M492.5 399v7M491 404.5h7M494.5 401v7M491 402.5h7M494.5 399v7M491 408.5h7M494.5 405v7M491 405.5h7M494.5 402v7M491 402.5h7M494.5 399v7M491 402.5h7M494.5 399v7M489 407.5h7M492.5 404v7M489 409.5h7M492.5 406v7M489 402.5h7M492.5 399v7M491 406.5h7M494.5 403v7M491 405.5h7M494.5 402v7M491 397.5h7M494.5 394v7M492 404.5h7M495.5 401v7M492 401.5h7M495.5 398v7M491 399.5h7M494.5 396v7M491 405.5h7M494.5 402v7M490 408.5h7M493.5 405v7M494 408.5h7M497.5 405v7M494 405.5h7M497.5 402v7M491 402.5h7M494.5 399v7M493 404.5h7M496.5 401v7M494 405.5h7M497.5 402v7M495 405.5h7M498.5 402v7M493 409.5h7M496.5 406v7M494 409.5h7M497.5 406v7M495 408.5h7M498.5 405v7M492 402.5h7M495.5 399v7M493 405.5h7M496.5 402v7M494 398.5h7M497.5 395v7M494 404.5h7M497.5 401v7M497 407.5h7M500.5 404v7M496 401.5h7M499.5 398v7M495 402.5h7M498.5 399v7M494 405.5h7M497.5 402v7M496 406.5h7M499.5 403v7M496 402.5h7M499.5 399v7M495 409.5h7M498.5 406v7M495 411.5h7M498.5 408v7M494 405.5h7M497.5 402v7M496 409.5h7M499.5 406v7M497 404.5h7M500.5 401v7M497 402.5h7M500.5 399v7M497 402.5h7M500.5 399v7M497 408.5h7M500.5 405v7M496 407.5h7M499.5 404v7M496 405.5h7M499.5 402v7M498 407.5h7M501.5 404v7M498 399.5h7M501.5 396v7M497 402.5h7M500.5 399v7M498 409.5h7M501.5 406v7M499 399.5h7M502.5 396v7M499 411.5h7M502.5 408v7M498 411.5h7M501.5 408v7M498 402.5h7M501.5 399v7M499 402.5h7M502.5 399v7M500 406.5h7M503.5 403v7M499 408.5h7M502.5 405v7M498 405.5h7M501.5 402v7M499 402.5h7M502.5 399v7M498 403.5h7M501.5 400v7M499 404.5h7M502.5 401v7M499 405.5h7M502.5 402v7M501 405.5h7M504.5 402v7M500 403.5h7M503.5 400v7M501 408.5h7M504.5 405v7M502 404.5h7M505.5 401v7M500 402.5h7M503.5 399v7M499 406.5h7M502.5 403v7M501 403.5h7M504.5 400v7M501 407.5h7M504.5 404v7M501 398.5h7M504.5 395v7M500 408.5h7M503.5 405v7M502 399.5h7M505.5 396v7M501 400.5h7M504.5 397v7M499 405.5h7M502.5 402v7M501 408.5h7M504.5 405v7M502 405.5h7M505.5 402v7M503 405.5h7M506.5 402v7M501 409.5h7M504.5 406v7M501 405.5h7M504.5 402v7M504 403.5h7M507.5 400v7M502 404.5h7M505.5 401v7M503 399.5h7M506.5 396v7M503 407.5h7M506.5 404v7M504 402.5h7M507.5 399v7M503 404.5h7M506.5 401v7M502 403.5h7M505.5 400v7M504 401.5h7M507.5 398v7M503 405.5h7M506.5 402v7M503 407.5h7M506.5 404v7M506 398.5h7M509.5 395v7M505 404.5h7M508.5 401v7M503 404.5h7M506.5 401v7M504 402.5h7M507.5 399v7M504 403.5h7M507.5 400v7M504 405.5h7M507.5 402v7M503 404.5h7M506.5 401v7M506 409.5h7M509.5 406v7M506 409.5h7M509.5 406v7M506 406.5h7M509.5 403v7M505 408.5h7M508.5 405v7M506 403.5h7M509.5 400v7M506 406.5h7M509.5 403v7M505 403.5h7M508.5 400v7M506 405.5h7M509.5 402v7M506 407.5h7M509.5 404v7M507 399.5h7M510.5 396v7M507 405.5h7M510.5 402v7M505 411.5h7M508.5 408v7M506 406.5h7M509.5 403v7M509 400.5h7M512.5 397v7M506 401.5h7M509.5 398v7M508 403.5h7M511.5 400v7M507 405.5h7M510.5 402v7M509 402.5h7M512.5 399v7M508 407.5h7M511.5 404v7M508 402.5h7M511.5 399v7M507 397.5h7M510.5 394v7M508 408.5h7M511.5 405v7M509 405.5h7M512.5 402v7M509 403.5h7M512.5 400v7M507 406.5h7M510.5 403v7M511 405.5h7M514.5 402v7M509 405.5h7M512.5 402v7M508 406.5h7M511.5 403v7M510 405.5h7M513.5 402v7M509 405.5h7M512.5 402v7M509 403.5h7M512.5 400v7M509 405.5h7M512.5 402v7M510 399.5h7M513.5 396v7M510 405.5h7M513.5 402v7M509 408.5h7M512.5 405v7M511 406.5h7M514.5 403v7M510 402.5h7M513.5 399v7M512 406.5h7M515.5 403v7M511 403.5h7M514.5 400v7M512 402.5h7M515.5 399v7M511 404.5h7M514.5 401v7M513 402.5h7M516.5 399v7M511 404.5h7M514.5 401v7M511 402.5h7M514.5 399v7M512 404.5h7M515.5 401v7M509 403.5h7M512.5 400v7M512 401.5h7M515.5 398v7M513 408.5h7M516.5 405v7M512 409.5h7M515.5 406v7M514 406.5h7M517.5 403v7M514 410.5h7M517.5 407v7M513 402.5h7M516.5 399v7M513 404.5h7M516.5 401v7M514 404.5h7M517.5 401v7M513 408.5h7M516.5 405v7M513 398.5h7M516.5 395v7M515 403.5h7M518.5 400v7M515 407.5h7M518.5 404v7M516 402.5h7M519.5 399v7M514 403.5h7M517.5 400v7M512 408.5h7M515.5 405v7M515 406.5h7M518.5 403v7M516 405.5h7M519.5 402v7M515 404.5h7M518.5 401v7M517 412.5h7M520.5 409v7M517 399.5h7M520.5 396v7M515 408.5h7M518.5 405v7M515 405.5h7M518.5 402v7M514 405.5h7M517.5 402v7M516 408.5h7M519.5 405v7M517 398.5h7M520.5 395v7M517 408.5h7M520.5 405v7M515 408.5h7M518.5 405v7M516 408.5h7M519.5 405v7M515 408.5h7M518.5 405v7M515 407.5h7M518.5 404v7M515 403.5h7M518.5 400v7M515 406.5h7M518.5 403v7M517 406.5h7M520.5 403v7M518 406.5h7M521.5 403v7M518 408.5h7M521.5 405v7M518 406.5h7M521.5 403v7M517 409.5h7M520.5 406v7M518 401.5h7M521.5 398v7M519 408.5h7M522.5 405v7M518 402.5h7M521.5 399v7M518 399.5h7M521.5 396v7M518 405.5h7M521.5 402v7M518 405.5h7M521.5 402v7M519 405.5h7M522.5 402v7M518 404.5h7M521.5 401v7M520 397.5h7M523.5 394v7M518 405.5h7M521.5 402v7M520 404.5h7M523.5 401v7M518 402.5h7M521.5 399v7M521 404.5h7M524.5 401v7M521 402.5h7M524.5 399v7M519 409.5h7M522.5 406v7M520 404.5h7M523.5 401v7M519 399.5h7M522.5 396v7M521 408.5h7M524.5 405v7M521 406.5h7M524.5 403v7M524 404.5h7M527.5 401v7M520 405.5h7M523.5 402v7M523 402.5h7M526.5 399v7M521 408.5h7M524.5 405v7M522 402.5h7M525.5 399v7M523 407.5h7M526.5 404v7M522 409.5h7M525.5 406v7M522 402.5h7M525.5 399v7M522 405.5h7M525.5 402v7M522 396.5h7M525.5 393v7M523 405.5h7M526.5 402v7M524 406.5h7M527.5 403v7M521 408.5h7M524.5 405v7M522 403.5h7M525.5 400v7M522 408.5h7M525.5 405v7M522 407.5h7M525.5 404v7M523 407.5h7M526.5 404v7M525 400.5h7M528.5 397v7M526 398.5h7M529.5 395v7M525 404.5h7M528.5 401v7M523 403.5h7M526.5 400v7M524 405.5h7M527.5 402v7M523 405.5h7M526.5 402v7M525 400.5h7M528.5 397v7M526 404.5h7M529.5 401v7M525 413.5h7M528.5 410v7M526 402.5h7M529.5 399v7M525 402.5h7M528.5 399v7M523 409.5h7M526.5 406v7M523 408.5h7M526.5 405v7M526 403.5h7M529.5 400v7M526 402.5h7M529.5 399v7M527 407.5h7M530.5 404v7M526 405.5h7M529.5 402v7M526 405.5h7M529.5 402v7M527 406.5h7M530.5 403v7M528 407.5h7M531.5 404v7M527 403.5h7M530.5 400v7M526 399.5h7M529.5 396v7M528 408.5h7M531.5 405v7M528 402.5h7M531.5 399v7M528 407.5h7M531.5 404v7M526 406.5h7M529.5 403v7M528 409.5h7M531.5 406v7M526 399.5h7M529.5 396v7M526 405.5h7M529.5 402v7M528 409.5h7M531.5 406v7M528 405.5h7M531.5 402v7M529 407.5h7M532.5 404v7M530 404.5h7M533.5 401v7M529 404.5h7M532.5 401v7M531 405.5h7M534.5 402v7M528 400.5h7M531.5 397v7M530 402.5h7M533.5 399v7M528 407.5h7M531.5 404v7M530 405.5h7M533.5 402v7M529 405.5h7M532.5 402v7M530 409.5h7M533.5 406v7M531 406.5h7M534.5 403v7M528 408.5h7M531.5 405v7M530 406.5h7M533.5 403v7M530 408.5h7M533.5 405v7M531 404.5h7M534.5 401v7M531 396.5h7M534.5 393v7M531 403.5h7M534.5 400v7M531 411.5h7M534.5 408v7M530 405.5h7M533.5 402v7M532 405.5h7M535.5 402v7M531 404.5h7M534.5 401v7M532 408.5h7M535.5 405v7M530 404.5h7M533.5 401v7M533 400.5h7M536.5 397v7M531 406.5h7M534.5 403v7M534 408.5h7M537.5 405v7M532 405.5h7M535.5 402v7M533 403.5h7M536.5 400v7M533 404.5h7M536.5 401v7M534 405.5h7M537.5 402v7M533 405.5h7M536.5 402v7M535 403.5h7M538.5 400v7M534 406.5h7M537.5 403v7M534 409.5h7M537.5 406v7M535 402.5h7M538.5 399v7M533 399.5h7M536.5 396v7M535 409.5h7M538.5 406v7M534 402.5h7M537.5 399v7M533 402.5h7M536.5 399v7M535 406.5h7M538.5 403v7M534 409.5h7M537.5 406v7M537 409.5h7M540.5 406v7M535 411.5h7M538.5 408v7M535 405.5h7M538.5 402v7M536 401.5h7M539.5 398v7M534 413.5h7M537.5 410v7M536 404.5h7M539.5 401v7M535 409.5h7M538.5 406v7M537 405.5h7M540.5 402v7M538 404.5h7M541.5 401v7M536 406.5h7M539.5 403v7M535 408.5h7M538.5 405v7M537 408.5h7M540.5 405v7M537 406.5h7M540.5 403v7M538 402.5h7M541.5 399v7M537 408.5h7M540.5 405v7M536 404.5h7M539.5 401v7M537 406.5h7M540.5 403v7M537 407.5h7M540.5 404v7M539 405.5h7M542.5 402v7M537 405.5h7M540.5 402v7M537 400.5h7M540.5 397v7M538 406.5h7M541.5 403v7M537 406.5h7M540.5 403v7M538 405.5h7M541.5 402v7M538 405.5h7M541.5 402v7M538 408.5h7M541.5 405v7M539 406.5h7M542.5 403v7M540 404.5h7M543.5 401v7M540 402.5h7M543.5 399v7M538 403.5h7M541.5 400v7M539 406.5h7M542.5 403v7M540 402.5h7M543.5 399v7M539 412.5h7M542.5 409v7M540 411.5h7M543.5 408v7M540 402.5h7M543.5 399v7M541 402.5h7M544.5 399v7M540 407.5h7M543.5 404v7M540 406.5h7M543.5 403v7M540 402.5h7M543.5 399v7M541 407.5h7M544.5 404v7M540 398.5h7M543.5 395v7M543 407.5h7M546.5 404v7M541 406.5h7M544.5 403v7M541 408.5h7M544.5 405v7M543 407.5h7M546.5 404v7M542 406.5h7M545.5 403v7M542 406.5h7M545.5 403v7M542 406.5h7M545.5 403v7M542 408.5h7M545.5 405v7M542 404.5h7M545.5 401v7M542 406.5h7M545.5 403v7M544 409.5h7M547.5 406v7M542 403.5h7M545.5 400v7M543 406.5h7M546.5 403v7M543 404.5h7M546.5 401v7M544 407.5h7M547.5 404v7M546 403.5h7M549.5 400v7M543 405.5h7M546.5 402v7M544 409.5h7M547.5 406v7M544 406.5h7M547.5 403v7M544 403.5h7M547.5 400v7M545 405.5h7M548.5 402v7M543 404.5h7M546.5 401v7M546 405.5h7M549.5 402v7M545 410.5h7M548.5 407v7M544 404.5h7M547.5 401v7M547 404.5h7M550.5 401v7M546 408.5h7M549.5 405v7M547 412.5h7M550.5 409v7M544 403.5h7M547.5 400v7M546 405.5h7M549.5 402v7M545 406.5h7M548.5 403v7M547 404.5h7M550.5 401v7M548 406.5h7M551.5 403v7M544 406.5h7M547.5 403v7M547 407.5h7M550.5 404v7M547 403.5h7M550.5 400v7M548 409.5h7M551.5 406v7M547 410.5h7M550.5 407v7M546 405.5h7M549.5 402v7M547 409.5h7M550.5 406v7M546 403.5h7M549.5 400v7M547 406.5h7M550.5 403v7M548 406.5h7M551.5 403v7M547 405.5h7M550.5 402v7M548 403.5h7M551.5 400v7M547 405.5h7M550.5 402v7M551 409.5h7M554.5 406v7M550 409.5h7M553.5 406v7M550 402.5h7M553.5 399v7M548 405.5h7M551.5 402v7M547 405.5h7M550.5 402v7M548 403.5h7M551.5 400v7M549 406.5h7M552.5 403v7M552 409.5h7M555.5 406v7M551 404.5h7M554.5 401v7M549 400.5h7M552.5 397v7M551 404.5h7M554.5 401v7M551 406.5h7M554.5 403v7M550 408.5h7M553.5 405v7M552 404.5h7M555.5 401v7M551 406.5h7M554.5 403v7M550 397.5h7M553.5 394v7M550 409.5h7M553.5 406v7M551 406.5h7M554.5 403v7M552 404.5h7M555.5 401v7M550 405.5h7M553.5 402v7M550 405.5h7M553.5 402v7M552 407.5h7M555.5 404v7M549 408.5h7M552.5 405v7M554 409.5h7M557.5 406v7M552 404.5h7M555.5 401v7M553 405.5h7M556.5 402v7M554 408.5h7M557.5 405v7M551 405.5h7M554.5 402v7M552 407.5h7M555.5 404v7M555 411.5h7M558.5 408v7M553 405.5h7M556.5 402v7M553 410.5h7M556.5 407v7M554 400.5h7M557.5 397v7M555 410.5h7M558.5 407v7M555 405.5h7M558.5 402v7M554 409.5h7M557.5 406v7M554 408.5h7M557.5 405v7M554 408.5h7M557.5 405v7M555 404.5h7M558.5 401v7M556 403.5h7M559.5 400v7M555 406.5h7M558.5 403v7M557 409.5h7M560.5 406v7M554 409.5h7M557.5 406v7M556 408.5h7M559.5 405v7M557 410.5h7M560.5 407v7M557 414.5h7M560.5 411v7M556 406.5h7M559.5 403v7M555 406.5h7M558.5 403v7M555 410.5h7M558.5 407v7M556 412.5h7M559.5 409v7M557 407.5h7M560.5 404v7M556 406.5h7M559.5 403v7M555 397.5h7M558.5 394v7M556 409.5h7M559.5 406v7M557 409.5h7M560.5 406v7M558 408.5h7M561.5 405v7M556 409.5h7M559.5 406v7M557 410.5h7M560.5 407v7M556 409.5h7M559.5 406v7M557 409.5h7M560.5 406v7M561 406.5h7M564.5 403v7M558 403.5h7M561.5 400v7M558 410.5h7M561.5 407v7M558 407.5h7M561.5 404v7M557 408.5h7M560.5 405v7M557 405.5h7M560.5 402v7M559 409.5h7M562.5 406v7M559 403.5h7M562.5 400v7M561 408.5h7M564.5 405v7M558 407.5h7M561.5 404v7M560 403.5h7M563.5 400v7M561 405.5h7M564.5 402v7M558 404.5h7M561.5 401v7M561 404.5h7M564.5 401v7M558 409.5h7M561.5 406v7M561 404.5h7M564.5 401v7M562 402.5h7M565.5 399v7M560 402.5h7M563.5 399v7M561 401.5h7M564.5 398v7M560 401.5h7M563.5 398v7M561 406.5h7M564.5 403v7M562 406.5h7M565.5 403v7M561 406.5h7M564.5 403v7M561 409.5h7M564.5 406v7M562 410.5h7M565.5 407v7M563 406.5h7M566.5 403v7M560 409.5h7M563.5 406v7M562 415.5h7M565.5 412v7M562 404.5h7M565.5 401v7M563 407.5h7M566.5 404v7M564 410.5h7M567.5 407v7M563 404.5h7M566.5 401v7M564 409.5h7M567.5 406v7M562 412.5h7M565.5 409v7M563 406.5h7M566.5 403v7M562 409.5h7M565.5 406v7M564 412.5h7M567.5 409v7M564 406.5h7M567.5 403v7M564 406.5h7M567.5 403v7M563 406.5h7M566.5 403v7M564 410.5h7M567.5 407v7M564 411.5h7M567.5 408v7M565 402.5h7M568.5 399v7M564 406.5h7M567.5 403v7M566 407.5h7M569.5 404v7M565 406.5h7M568.5 403v7M563 407.5h7M566.5 404v7M565 405.5h7M568.5 402v7M564 409.5h7M567.5 406v7M566 406.5h7M569.5 403v7M567 404.5h7M570.5 401v7M566 406.5h7M569.5 403v7M566 405.5h7M569.5 402v7M565 412.5h7M568.5 409v7M564 410.5h7M567.5 407v7M566 412.5h7M569.5 409v7M566 407.5h7M569.5 404v7M565 405.5h7M568.5 402v7M567 409.5h7M570.5 406v7M567 410.5h7M570.5 407v7M568 411.5h7M571.5 408v7M569 409.5h7M572.5 406v7M568 405.5h7M571.5 402v7M567 405.5h7M570.5 402v7M568 408.5h7M571.5 405v7M569 414.5h7M572.5 411v7M567 407.5h7M570.5 404v7M570 406.5h7M573.5 403v7M569 407.5h7M572.5 404v7M568 412.5h7M571.5 409v7M568 405.5h7M571.5 402v7M573 407.5h7M576.5 404v7M570 409.5h7M573.5 406v7M570 410.5h7M573.5 407v7M571 412.5h7M574.5 409v7M571 407.5h7M574.5 404v7M570 402.5h7M573.5 399v7M571 410.5h7M574.5 407v7M569 406.5h7M572.5 403v7M571 411.5h7M574.5 408v7M569 412.5h7M572.5 409v7M571 412.5h7M574.5 409v7M571 409.5h7M574.5 406v7M569 406.5h7M572.5 403v7M573 404.5h7M576.5 401v7M570 406.5h7M573.5 403v7M572 408.5h7M575.5 405v7M571 407.5h7M574.5 404v7M572 403.5h7M575.5 400v7M571 409.5h7M574.5 406v7M574 411.5h7M577.5 408v7M573 407.5h7M576.5 404v7M574 406.5h7M577.5 403v7M573 408.5h7M576.5 405v7M573 409.5h7M576.5 406v7M573 406.5h7M576.5 403v7M573 408.5h7M576.5 405v7M574 409.5h7M577.5 406v7M573 409.5h7M576.5 406v7M573 400.5h7M576.5 397v7M572 408.5h7M575.5 405v7M573 408.5h7M576.5 405v7M574 411.5h7M577.5 408v7M573 409.5h7M576.5 406v7M574 406.5h7M577.5 403v7M574 409.5h7M577.5 406v7M573 411.5h7M576.5 408v7M574 413.5h7M577.5 410v7M574 404.5h7M577.5 401v7M575 412.5h7M578.5 409v7M575 406.5h7M578.5 403v7M576 410.5h7M579.5 407v7M574 401.5h7M577.5 398v7M573 412.5h7M576.5 409v7M576 410.5h7M579.5 407v7M575 406.5h7M578.5 403v7M576 409.5h7M579.5 406v7M579 410.5h7M582.5 407v7M578 410.5h7M581.5 407v7M577 403.5h7M580.5 400v7M578 404.5h7M581.5 401v7M577 406.5h7M580.5 403v7M578 410.5h7M581.5 407v7M576 403.5h7M579.5 400v7M577 410.5h7M580.5 407v7M577 404.5h7M580.5 401v7M579 408.5h7M582.5 405v7M579 405.5h7M582.5 402v7M577 406.5h7M580.5 403v7M579 409.5h7M582.5 406v7M578 405.5h7M581.5 402v7M579 406.5h7M582.5 403v7M578 404.5h7M581.5 401v7M580 409.5h7M583.5 406v7M579 412.5h7M582.5 409v7M579 409.5h7M582.5 406v7M579 404.5h7M582.5 401v7M579 409.5h7M582.5 406v7M579 406.5h7M582.5 403v7M578 406.5h7M581.5 403v7M582 402.5h7M585.5 399v7M580 409.5h7M583.5 406v7M578 400.5h7M581.5 397v7M578 411.5h7M581.5 408v7M578 406.5h7M581.5 403v7M580 408.5h7M583.5 405v7M582 407.5h7M585.5 404v7M579 404.5h7M582.5 401v7M581 406.5h7M584.5 403v7M579 406.5h7M582.5 403v7M582 411.5h7M585.5 408v7M582 409.5h7M585.5 406v7M582 409.5h7M585.5 406v7M583 402.5h7M586.5 399v7M584 406.5h7M587.5 403v7M583 406.5h7M586.5 403v7M582 409.5h7M585.5 406v7M581 405.5h7M584.5 402v7M582 410.5h7M585.5 407v7M581 405.5h7M584.5 402v7M585 409.5h7M588.5 406v7M583 409.5h7M586.5 406v7M583 412.5h7M586.5 409v7M584 406.5h7M587.5 403v7M586 400.5h7M589.5 397v7M583 409.5h7M586.5 406v7M585 412.5h7M588.5 409v7M584 405.5h7M587.5 402v7M584 407.5h7M587.5 404v7M582 406.5h7M585.5 403v7M585 406.5h7M588.5 403v7M584 404.5h7M587.5 401v7M584 403.5h7M587.5 400v7M585 408.5h7M588.5 405v7M585 412.5h7M588.5 409v7M586 403.5h7M589.5 400v7M585 406.5h7M588.5 403v7M586 401.5h7M589.5 398v7M586 406.5h7M589.5 403v7M586 409.5h7M589.5 406v7M587 406.5h7M590.5 403v7M586 406.5h7M589.5 403v7M588 408.5h7M591.5 405v7M586 412.5h7M589.5 409v7M585 408.5h7M588.5 405v7M587 408.5h7M590.5 405v7M588 410.5h7M591.5 407v7M587 409.5h7M590.5 406v7M587 406.5h7M590.5 403v7M587 404.5h7M590.5 401v7M588 409.5h7M591.5 406v7M588 407.5h7M591.5 404v7M588 405.5h7M591.5 402v7M586 403.5h7M589.5 400v7M590 413.5h7M593.5 410v7M589 407.5h7M592.5 404v7M588 404.5h7M591.5 401v7M590 403.5h7M593.5 400v7M589 409.5h7M592.5 406v7M591 407.5h7M594.5 404v7M588 406.5h7M591.5 403v7M591 409.5h7M594.5 406v7M590 404.5h7M593.5 401v7M588 405.5h7M591.5 402v7M591 405.5h7M594.5 402v7M590 410.5h7M593.5 407v7M589 410.5h7M592.5 407v7M590 412.5h7M593.5 409v7M588 412.5h7M591.5 409v7M591 406.5h7M594.5 403v7M590 406.5h7M593.5 403v7M591 407.5h7M594.5 404v7M592 409.5h7M595.5 406v7M591 409.5h7M594.5 406v7M591 406.5h7M594.5 403v7M591 408.5h7M594.5 405v7M592 406.5h7M595.5 403v7M593 403.5h7M596.5 400v7M591 406.5h7M594.5 403v7M591 403.5h7M594.5 400v7M593 397.5h7M596.5 394v7M593 406.5h7M596.5 403v7M593 403.5h7M596.5 400v7M595 404.5h7M598.5 401v7M592 404.5h7M595.5 401v7M593 401.5h7M596.5 398v7M591 407.5h7M594.5 404v7M593 406.5h7M596.5 403v7M594 405.5h7M597.5 402v7M595 411.5h7M598.5 408v7M593 405.5h7M596.5 402v7M595 403.5h7M598.5 400v7M595 407.5h7M598.5 404v7M594 407.5h7M597.5 404v7M597 403.5h7M600.5 400v7M595 402.5h7M598.5 399v7M594 404.5h7M597.5 401v7M595 399.5h7M598.5 396v7M593 402.5h7M596.5 399v7M597 411.5h7M600.5 408v7M596 409.5h7M599.5 406v7M595 407.5h7M598.5 404v7M596 407.5h7M599.5 404v7M596 403.5h7M599.5 400v7M598 400.5h7M601.5 397v7M596 406.5h7M599.5 403v7M595 411.5h7M598.5 408v7M594 408.5h7M597.5 405v7M596 407.5h7M599.5 404v7M595 409.5h7M598.5 406v7M597 403.5h7M600.5 400v7M598 404.5h7M601.5 401v7M597 405.5h7M600.5 402v7M596 404.5h7M599.5 401v7M599 404.5h7M602.5 401v7M598 404.5h7M601.5 401v7M598 404.5h7M601.5 401v7M599 405.5h7M602.5 402v7M597 404.5h7M600.5 401v7M597 407.5h7M600.5 404v7M601 399.5h7M604.5 396v7M599 407.5h7M602.5 404v7M598 404.5h7M601.5 401v7M599 405.5h7M602.5 402v7M599 403.5h7M602.5 400v7M598 402.5h7M601.5 399v7M599 407.5h7M602.5 404v7M600 405.5h7M603.5 402v7M600 404.5h7M603.5 401v7M600 408.5h7M603.5 405v7M598 403.5h7M601.5 400v7M599 405.5h7M602.5 402v7M601 400.5h7M604.5 397v7M600 410.5h7M603.5 407v7M602 404.5h7M605.5 401v7M601 396.5h7M604.5 393v7M600 408.5h7M603.5 405v7M602 408.5h7M605.5 405v7M600 405.5h7M603.5 402v7M602 402.5h7M605.5 399v7M603 402.5h7M606.5 399v7M604 403.5h7M607.5 400v7M602 405.5h7M605.5 402v7M603 408.5h7M606.5 405v7M603 405.5h7M606.5 402v7M603 405.5h7M606.5 402v7M600 396.5h7M603.5 393v7M602 401.5h7M605.5 398v7M603 409.5h7M606.5 406v7M604 402.5h7M607.5 399v7M602 405.5h7M605.5 402v7M604 403.5h7M607.5 400v7M604 401.5h7M607.5 398v7M604 401.5h7M607.5 398v7M604 398.5h7M607.5 395v7" stroke="#f00" stroke-width="1" fill="none"/>
<path d="M134.5 419v-4M134.5 23v4M193.5 419v-4M193.5 23v4M252.5 419v-4M252.5 23v4M311.5 419v-4M311.5 23v4M370.5 419v-4M370.5 23v4M429.5 419v-4M429.5 23v4M488.5 419v-4M488.5 23v4M547.5 419v-4M547.5 23v4M606.5 419v-4M606.5 23v4M91 419.5h4M606 419.5h-4M91 340.5h4M606 340.5h-4M91 260.5h4M606 260.5h-4M91 181.5h4M606 181.5h-4M91 101.5h4M606 101.5h-4M91 22.5h4M606 22.5h-4" stroke="#000" stroke-width="1" fill="none"/>
<rect x="90.5" y="22.5" width="516" height="397" fill="none" stroke="#000" stroke-width="1"/>
<g font-family="'DejaVu Sans', 'Liberation Sans', sans-serif" font-size="16" fill="#000" stroke="#fff" stroke-width="0.16" shape-rendering="auto" text-rendering="geometricPrecision">
<text x="75.3" y="424.1" text-anchor="end">0</text>
<text x="75.3" y="344.7" text-anchor="end">100</text>
<text x="75.3" y="265.3" text-anchor="end">200</text>
<text x="75.3" y="185.9" text-anchor="end">300</text>
<text x="75.3" y="106.5" text-anchor="end">400</text>
<text x="75.3" y="27.1" text-anchor="end">500</text>
<text x="134.0" y="442.8" text-anchor="middle">200</text>
<text x="193.0" y="442.8" text-anchor="middle">400</text>
<text x="252.0" y="442.8" text-anchor="middle">600</text>
<text x="311.0" y="442.8" text-anchor="middle">800</text>
<text x="370.0" y="442.8" text-anchor="middle">1000</text>
<text x="429.0" y="442.8" text-anchor="middle">1200</text>
<text x="488.0" y="442.8" text-anchor="middle">1400</text>
<text x="547.0" y="442.8" text-anchor="middle">1600</text>
<text x="606.0" y="442.8" text-anchor="middle">1800</text>
<text x="292.2" y="471.3" letter-spacing="0.09">Energie [keV]</text>
<text transform="translate(17.6,279.7) rotate(-90)">Intenzita <tspan dx="0.7">[ </tspan><tspan dx="-3.3" letter-spacing="-0.7">Imp]</tspan></text>
</g></svg>
</body></html>
